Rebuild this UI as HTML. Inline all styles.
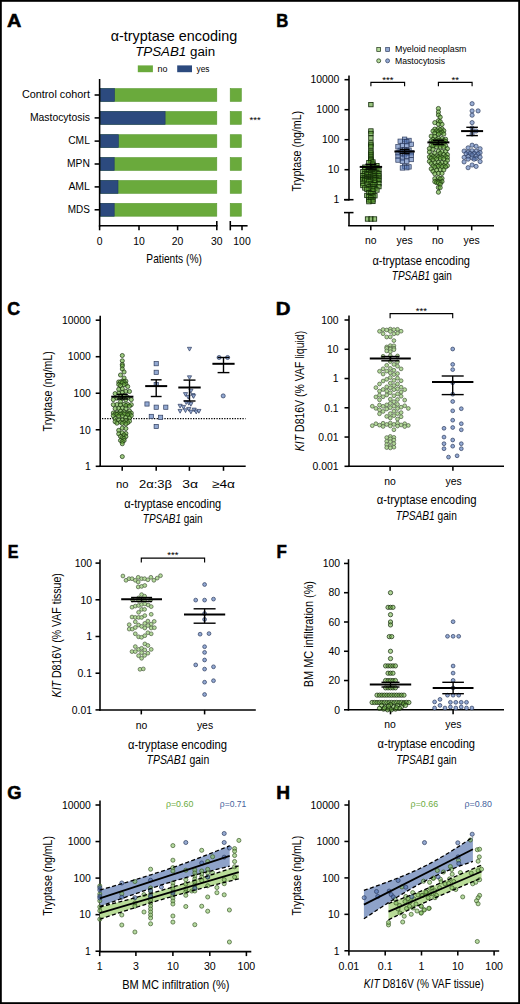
<!DOCTYPE html>
<html><head><meta charset="utf-8"><style>
html,body{margin:0;padding:0;background:#fff;}
body{width:520px;height:1004px;overflow:hidden;}
svg{display:block;font-family:"Liberation Sans", sans-serif;}
</style></head><body>
<svg width="520" height="1004" viewBox="0 0 520 1004">
<rect x="0" y="0" width="520" height="1004" fill="#fff"/>
<text transform="translate(7.03,26.9) scale(1.058,1)" font-size="18.8" font-weight="bold" stroke="#000" stroke-width="0.55">A</text>
<text transform="translate(276.32,27.0) scale(0.887,1)" font-size="18.8" font-weight="bold" stroke="#000" stroke-width="0.55">B</text>
<text transform="translate(7.31,314.9) scale(0.945,1)" font-size="18.8" font-weight="bold" stroke="#000" stroke-width="0.55">C</text>
<text transform="translate(275.87,314.7) scale(1.086,1)" font-size="18.8" font-weight="bold" stroke="#000" stroke-width="0.55">D</text>
<text transform="translate(7.86,557.9) scale(0.857,1)" font-size="18.8" font-weight="bold" stroke="#000" stroke-width="0.55">E</text>
<text transform="translate(276.41,557.9) scale(0.9,1)" font-size="18.8" font-weight="bold" stroke="#000" stroke-width="0.55">F</text>
<text transform="translate(7.29,799.2) scale(0.98,1)" font-size="18.8" font-weight="bold" stroke="#000" stroke-width="0.55">G</text>
<text transform="translate(276.16,798.5) scale(1.018,1)" font-size="18.8" font-weight="bold" stroke="#000" stroke-width="0.55">H</text>
<text x="173.9" y="40.5" font-size="13.9" text-anchor="middle" textLength="126.5" lengthAdjust="spacingAndGlyphs">&#945;-tryptase encoding</text>
<text x="175.2" y="56.2" font-size="13.7" text-anchor="middle" textLength="80" lengthAdjust="spacingAndGlyphs"><tspan font-style="italic">TPSAB1</tspan> gain</text>
<rect x="137.80" y="65.40" width="15.10" height="6.80" fill="#6aaa3c"/>
<text x="157.5" y="71.5" font-size="8.5" textLength="10.0" lengthAdjust="spacingAndGlyphs">no</text>
<rect x="177.20" y="65.40" width="14.80" height="6.80" fill="#2c4a7e"/>
<text x="196.5" y="71.5" font-size="8.5" textLength="13.0" lengthAdjust="spacingAndGlyphs">yes</text>
<text x="89.9" y="98.3" font-size="10" text-anchor="end" textLength="68.0" lengthAdjust="spacingAndGlyphs">Control cohort</text>
<line x1="94.60" y1="95.00" x2="99.50" y2="95.00" stroke="#000" stroke-width="1.55"/>
<rect x="100.30" y="88.60" width="116.50" height="12.80" fill="#6aaa3c" stroke="#58982f" stroke-width="0.6"/>
<rect x="100.30" y="88.60" width="14.20" height="12.80" fill="#2c4a7e" stroke="#203a6a" stroke-width="0.6"/>
<rect x="230.20" y="88.60" width="11.10" height="12.80" fill="#6aaa3c" stroke="#58982f" stroke-width="0.6"/>
<text x="89.9" y="121.3" font-size="10" text-anchor="end" textLength="60.0" lengthAdjust="spacingAndGlyphs">Mastocytosis</text>
<line x1="94.60" y1="117.90" x2="99.50" y2="117.90" stroke="#000" stroke-width="1.55"/>
<rect x="100.30" y="111.50" width="116.50" height="12.80" fill="#6aaa3c" stroke="#58982f" stroke-width="0.6"/>
<rect x="100.30" y="111.50" width="64.80" height="12.80" fill="#2c4a7e" stroke="#203a6a" stroke-width="0.6"/>
<rect x="230.20" y="111.50" width="11.10" height="12.80" fill="#6aaa3c" stroke="#58982f" stroke-width="0.6"/>
<text x="89.9" y="144.1" font-size="10" text-anchor="end" textLength="21.7" lengthAdjust="spacingAndGlyphs">CML</text>
<line x1="94.60" y1="141.10" x2="99.50" y2="141.10" stroke="#000" stroke-width="1.55"/>
<rect x="100.30" y="134.70" width="116.50" height="12.80" fill="#6aaa3c" stroke="#58982f" stroke-width="0.6"/>
<rect x="100.30" y="134.70" width="18.10" height="12.80" fill="#2c4a7e" stroke="#203a6a" stroke-width="0.6"/>
<rect x="230.20" y="134.70" width="11.10" height="12.80" fill="#6aaa3c" stroke="#58982f" stroke-width="0.6"/>
<text x="89.9" y="167.0" font-size="10" text-anchor="end" textLength="22.9" lengthAdjust="spacingAndGlyphs">MPN</text>
<line x1="94.60" y1="164.00" x2="99.50" y2="164.00" stroke="#000" stroke-width="1.55"/>
<rect x="100.30" y="157.60" width="116.50" height="12.80" fill="#6aaa3c" stroke="#58982f" stroke-width="0.6"/>
<rect x="100.30" y="157.60" width="13.90" height="12.80" fill="#2c4a7e" stroke="#203a6a" stroke-width="0.6"/>
<rect x="230.20" y="157.60" width="11.10" height="12.80" fill="#6aaa3c" stroke="#58982f" stroke-width="0.6"/>
<text x="89.9" y="190.0" font-size="10" text-anchor="end" textLength="21.5" lengthAdjust="spacingAndGlyphs">AML</text>
<line x1="94.60" y1="186.90" x2="99.50" y2="186.90" stroke="#000" stroke-width="1.55"/>
<rect x="100.30" y="180.50" width="116.50" height="12.80" fill="#6aaa3c" stroke="#58982f" stroke-width="0.6"/>
<rect x="100.30" y="180.50" width="17.70" height="12.80" fill="#2c4a7e" stroke="#203a6a" stroke-width="0.6"/>
<rect x="230.20" y="180.50" width="11.10" height="12.80" fill="#6aaa3c" stroke="#58982f" stroke-width="0.6"/>
<text x="89.9" y="213.0" font-size="10" text-anchor="end" textLength="22.1" lengthAdjust="spacingAndGlyphs">MDS</text>
<line x1="94.60" y1="209.80" x2="99.50" y2="209.80" stroke="#000" stroke-width="1.55"/>
<rect x="100.30" y="203.40" width="116.50" height="12.80" fill="#6aaa3c" stroke="#58982f" stroke-width="0.6"/>
<rect x="100.30" y="203.40" width="13.90" height="12.80" fill="#2c4a7e" stroke="#203a6a" stroke-width="0.6"/>
<rect x="230.20" y="203.40" width="11.10" height="12.80" fill="#6aaa3c" stroke="#58982f" stroke-width="0.6"/>
<text x="249.6" y="122.6" font-size="9.5">***</text>
<line x1="99.60" y1="79.00" x2="99.60" y2="226.50" stroke="#000" stroke-width="1.55"/>
<line x1="98.90" y1="225.80" x2="217.50" y2="225.80" stroke="#000" stroke-width="1.55"/>
<line x1="230.00" y1="225.80" x2="247.60" y2="225.80" stroke="#000" stroke-width="1.55"/>
<line x1="99.60" y1="225.80" x2="99.60" y2="230.30" stroke="#000" stroke-width="1.55"/>
<line x1="139.00" y1="225.80" x2="139.00" y2="230.30" stroke="#000" stroke-width="1.55"/>
<line x1="177.60" y1="225.80" x2="177.60" y2="230.30" stroke="#000" stroke-width="1.55"/>
<line x1="216.80" y1="221.00" x2="216.80" y2="230.30" stroke="#000" stroke-width="1.55"/>
<line x1="230.30" y1="221.00" x2="230.30" y2="230.30" stroke="#000" stroke-width="1.55"/>
<line x1="242.00" y1="225.80" x2="242.00" y2="230.30" stroke="#000" stroke-width="1.55"/>
<text x="99.6" y="244.8" font-size="10.4" text-anchor="middle">0</text>
<text x="139.0" y="244.8" font-size="10.4" text-anchor="middle">10</text>
<text x="177.6" y="244.8" font-size="10.4" text-anchor="middle">20</text>
<text x="216.8" y="244.8" font-size="10.4" text-anchor="middle">30</text>
<text x="242.0" y="244.8" font-size="10.4" text-anchor="middle">100</text>
<text x="174.1" y="262.8" font-size="12.2" text-anchor="middle" textLength="55.5" lengthAdjust="spacingAndGlyphs">Patients (%)</text>
<g fill="#b3d99a" stroke="#1a3010" stroke-width="0.7"><rect x="376.80" y="47.60" width="3.8" height="3.8"/></g>
<g fill="#93a9d2" stroke="#2e3c5e" stroke-width="0.7"><rect x="385.70" y="47.60" width="3.8" height="3.8"/></g>
<g fill="#b3d99a" stroke="#1a3010" stroke-width="0.7"><circle cx="378.70" cy="60.80" r="2.0"/></g>
<g fill="#93a9d2" stroke="#2e3c5e" stroke-width="0.7"><circle cx="387.60" cy="60.80" r="2.0"/></g>
<text x="395.0" y="52.3" font-size="8.6" textLength="71.5" lengthAdjust="spacingAndGlyphs">Myeloid neoplasm</text>
<text x="395.0" y="63.5" font-size="8.6" textLength="50.0" lengthAdjust="spacingAndGlyphs">Mastocytosis</text>
<line x1="349.00" y1="75.50" x2="349.00" y2="200.50" stroke="#000" stroke-width="1.55"/>
<line x1="344.50" y1="79.70" x2="349.00" y2="79.70" stroke="#000" stroke-width="1.55"/>
<text x="339.4" y="83.4" font-size="10.4" text-anchor="end">10000</text>
<line x1="344.50" y1="109.70" x2="349.00" y2="109.70" stroke="#000" stroke-width="1.55"/>
<text x="339.4" y="113.4" font-size="10.4" text-anchor="end">1000</text>
<line x1="344.50" y1="139.70" x2="349.00" y2="139.70" stroke="#000" stroke-width="1.55"/>
<text x="339.4" y="143.4" font-size="10.4" text-anchor="end">100</text>
<line x1="344.50" y1="169.70" x2="349.00" y2="169.70" stroke="#000" stroke-width="1.55"/>
<text x="339.4" y="173.4" font-size="10.4" text-anchor="end">10</text>
<line x1="344.50" y1="199.70" x2="349.00" y2="199.70" stroke="#000" stroke-width="1.55"/>
<text x="339.4" y="203.4" font-size="10.4" text-anchor="end">1</text>
<line x1="344.00" y1="199.70" x2="353.50" y2="199.70" stroke="#000" stroke-width="1.55"/>
<line x1="349.00" y1="212.60" x2="349.00" y2="226.00" stroke="#000" stroke-width="1.55"/>
<line x1="344.00" y1="212.60" x2="353.50" y2="212.60" stroke="#000" stroke-width="1.55"/>
<line x1="348.20" y1="225.80" x2="494.00" y2="225.80" stroke="#000" stroke-width="1.55"/>
<line x1="370.80" y1="225.80" x2="370.80" y2="230.30" stroke="#000" stroke-width="1.55"/>
<line x1="404.60" y1="225.80" x2="404.60" y2="230.30" stroke="#000" stroke-width="1.55"/>
<line x1="437.80" y1="225.80" x2="437.80" y2="230.30" stroke="#000" stroke-width="1.55"/>
<line x1="471.70" y1="225.80" x2="471.70" y2="230.30" stroke="#000" stroke-width="1.55"/>
<text x="370.8" y="244.2" font-size="10.4" text-anchor="middle">no</text>
<text x="404.6" y="244.2" font-size="10.4" text-anchor="middle">yes</text>
<text x="437.8" y="244.2" font-size="10.4" text-anchor="middle">no</text>
<text x="471.7" y="244.2" font-size="10.4" text-anchor="middle">yes</text>
<text x="421.2" y="265.1" font-size="13.2" text-anchor="middle" textLength="97.6" lengthAdjust="spacingAndGlyphs">&#945;-tryptase encoding</text>
<text x="421.8" y="279.9" font-size="13.2" text-anchor="middle" textLength="60.0" lengthAdjust="spacingAndGlyphs"><tspan font-style="italic">TPSAB1</tspan> gain</text>
<text transform="translate(301.2,151.2) rotate(-90)" font-size="13.5" text-anchor="middle" textLength="80.7" lengthAdjust="spacingAndGlyphs">Tryptase (ng/mL)</text>
<path d="M370.90,86.30V82.40H404.60V86.30" fill="none" stroke="#000" stroke-width="1.15"/>
<text x="387.8" y="83.0" font-size="9.5" text-anchor="middle">***</text>
<path d="M438.40,86.30V82.40H472.10V86.30" fill="none" stroke="#000" stroke-width="1.15"/>
<text x="455.2" y="83.0" font-size="9.5" text-anchor="middle">**</text>
<g fill="#5aa030" fill-opacity="0.62" stroke="#0f2606" stroke-width="0.8"><rect x="368.70" y="102.40" width="4.4" height="4.4"/><rect x="368.70" y="128.80" width="4.4" height="4.4"/><rect x="368.70" y="131.30" width="4.4" height="4.4"/><rect x="368.70" y="135.80" width="4.4" height="4.4"/><rect x="368.70" y="140.80" width="4.4" height="4.4"/><rect x="368.70" y="142.80" width="4.4" height="4.4"/><rect x="368.70" y="144.80" width="4.4" height="4.4"/><rect x="368.70" y="148.80" width="4.4" height="4.4"/><rect x="368.70" y="150.80" width="4.4" height="4.4"/><rect x="368.70" y="152.80" width="4.4" height="4.4"/><rect x="368.70" y="154.80" width="4.4" height="4.4"/><rect x="368.70" y="156.80" width="4.4" height="4.4"/><rect x="368.70" y="158.80" width="4.4" height="4.4"/><rect x="368.70" y="157.85" width="4.4" height="4.4"/><rect x="370.70" y="159.83" width="4.4" height="4.4"/><rect x="366.70" y="160.50" width="4.4" height="4.4"/><rect x="370.70" y="162.01" width="4.4" height="4.4"/><rect x="374.70" y="163.43" width="4.4" height="4.4"/><rect x="366.70" y="164.78" width="4.4" height="4.4"/><rect x="362.70" y="164.97" width="4.4" height="4.4"/><rect x="370.70" y="165.19" width="4.4" height="4.4"/><rect x="374.70" y="165.66" width="4.4" height="4.4"/><rect x="368.70" y="165.87" width="4.4" height="4.4"/><rect x="366.70" y="166.87" width="4.4" height="4.4"/><rect x="372.70" y="167.01" width="4.4" height="4.4"/><rect x="362.70" y="167.44" width="4.4" height="4.4"/><rect x="370.70" y="167.59" width="4.4" height="4.4"/><rect x="376.70" y="167.87" width="4.4" height="4.4"/><rect x="368.70" y="168.45" width="4.4" height="4.4"/><rect x="364.70" y="169.50" width="4.4" height="4.4"/><rect x="360.70" y="169.51" width="4.4" height="4.4"/><rect x="370.70" y="169.58" width="4.4" height="4.4"/><rect x="366.70" y="169.68" width="4.4" height="4.4"/><rect x="374.70" y="170.26" width="4.4" height="4.4"/><rect x="368.70" y="170.41" width="4.4" height="4.4"/><rect x="372.70" y="170.68" width="4.4" height="4.4"/><rect x="362.70" y="171.26" width="4.4" height="4.4"/><rect x="376.70" y="171.39" width="4.4" height="4.4"/><rect x="370.70" y="171.62" width="4.4" height="4.4"/><rect x="366.70" y="171.81" width="4.4" height="4.4"/><rect x="364.70" y="172.25" width="4.4" height="4.4"/><rect x="368.70" y="172.61" width="4.4" height="4.4"/><rect x="372.70" y="173.30" width="4.4" height="4.4"/><rect x="360.70" y="173.45" width="4.4" height="4.4"/><rect x="376.70" y="173.63" width="4.4" height="4.4"/><rect x="370.70" y="173.78" width="4.4" height="4.4"/><rect x="364.70" y="174.73" width="4.4" height="4.4"/><rect x="368.70" y="174.81" width="4.4" height="4.4"/><rect x="366.70" y="175.19" width="4.4" height="4.4"/><rect x="360.70" y="175.74" width="4.4" height="4.4"/><rect x="374.70" y="175.88" width="4.4" height="4.4"/><rect x="370.70" y="175.94" width="4.4" height="4.4"/><rect x="372.70" y="175.98" width="4.4" height="4.4"/><rect x="362.70" y="176.05" width="4.4" height="4.4"/><rect x="376.70" y="176.07" width="4.4" height="4.4"/><rect x="364.70" y="176.54" width="4.4" height="4.4"/><rect x="368.70" y="176.76" width="4.4" height="4.4"/><rect x="366.70" y="177.42" width="4.4" height="4.4"/><rect x="360.70" y="177.57" width="4.4" height="4.4"/><rect x="374.70" y="177.69" width="4.4" height="4.4"/><rect x="370.70" y="177.83" width="4.4" height="4.4"/><rect x="372.70" y="178.00" width="4.4" height="4.4"/><rect x="362.70" y="178.13" width="4.4" height="4.4"/><rect x="376.70" y="178.28" width="4.4" height="4.4"/><rect x="364.70" y="178.31" width="4.4" height="4.4"/><rect x="368.70" y="178.98" width="4.4" height="4.4"/><rect x="366.70" y="179.26" width="4.4" height="4.4"/><rect x="372.70" y="180.15" width="4.4" height="4.4"/><rect x="360.70" y="181.07" width="4.4" height="4.4"/><rect x="376.70" y="181.49" width="4.4" height="4.4"/><rect x="368.70" y="181.74" width="4.4" height="4.4"/><rect x="364.70" y="182.05" width="4.4" height="4.4"/><rect x="372.70" y="182.48" width="4.4" height="4.4"/><rect x="370.70" y="182.65" width="4.4" height="4.4"/><rect x="360.70" y="183.31" width="4.4" height="4.4"/><rect x="376.70" y="184.42" width="4.4" height="4.4"/><rect x="366.70" y="184.60" width="4.4" height="4.4"/><rect x="370.70" y="184.72" width="4.4" height="4.4"/><rect x="362.70" y="185.77" width="4.4" height="4.4"/><rect x="368.70" y="186.12" width="4.4" height="4.4"/><rect x="372.70" y="186.25" width="4.4" height="4.4"/><rect x="370.70" y="186.72" width="4.4" height="4.4"/><rect x="366.70" y="186.95" width="4.4" height="4.4"/><rect x="364.70" y="187.20" width="4.4" height="4.4"/><rect x="374.70" y="187.80" width="4.4" height="4.4"/><rect x="370.70" y="188.82" width="4.4" height="4.4"/><rect x="366.70" y="190.50" width="4.4" height="4.4"/><rect x="370.70" y="191.42" width="4.4" height="4.4"/><rect x="368.70" y="191.52" width="4.4" height="4.4"/><rect x="364.70" y="193.25" width="4.4" height="4.4"/><rect x="372.70" y="193.54" width="4.4" height="4.4"/><rect x="368.70" y="193.84" width="4.4" height="4.4"/><rect x="370.70" y="194.25" width="4.4" height="4.4"/><rect x="366.70" y="194.48" width="4.4" height="4.4"/><rect x="368.70" y="195.70" width="4.4" height="4.4"/><rect x="370.70" y="197.56" width="4.4" height="4.4"/><rect x="366.70" y="197.65" width="4.4" height="4.4"/><rect x="368.70" y="198.01" width="4.4" height="4.4"/><rect x="370.70" y="199.22" width="4.4" height="4.4"/><rect x="366.70" y="199.44" width="4.4" height="4.4"/><rect x="365.30" y="216.80" width="4.4" height="4.4"/><rect x="368.80" y="216.80" width="4.4" height="4.4"/><rect x="372.30" y="216.80" width="4.4" height="4.4"/></g>
<line x1="359.70" y1="166.90" x2="382.10" y2="166.90" stroke="#000" stroke-width="2.0"/>
<line x1="370.90" y1="164.30" x2="370.90" y2="169.00" stroke="#000" stroke-width="1.4"/>
<line x1="365.40" y1="164.30" x2="376.40" y2="164.30" stroke="#000" stroke-width="1.4"/>
<line x1="365.40" y1="169.00" x2="376.40" y2="169.00" stroke="#000" stroke-width="1.4"/>
<g fill="#5577b5" fill-opacity="0.6" stroke="#2e3c5e" stroke-width="0.7"><rect x="402.40" y="137.03" width="4.4" height="4.4"/><rect x="406.80" y="138.24" width="4.4" height="4.4"/><rect x="398.00" y="139.06" width="4.4" height="4.4"/><rect x="402.40" y="139.27" width="4.4" height="4.4"/><rect x="404.60" y="139.61" width="4.4" height="4.4"/><rect x="409.00" y="142.06" width="4.4" height="4.4"/><rect x="400.20" y="143.18" width="4.4" height="4.4"/><rect x="404.60" y="143.26" width="4.4" height="4.4"/><rect x="395.80" y="144.64" width="4.4" height="4.4"/><rect x="402.40" y="147.63" width="4.4" height="4.4"/><rect x="406.80" y="147.96" width="4.4" height="4.4"/><rect x="398.00" y="148.13" width="4.4" height="4.4"/><rect x="404.60" y="148.38" width="4.4" height="4.4"/><rect x="400.20" y="149.22" width="4.4" height="4.4"/><rect x="409.00" y="150.59" width="4.4" height="4.4"/><rect x="395.80" y="150.66" width="4.4" height="4.4"/><rect x="404.60" y="151.01" width="4.4" height="4.4"/><rect x="400.20" y="151.65" width="4.4" height="4.4"/><rect x="402.40" y="152.67" width="4.4" height="4.4"/><rect x="409.00" y="153.06" width="4.4" height="4.4"/><rect x="395.80" y="154.07" width="4.4" height="4.4"/><rect x="404.60" y="154.28" width="4.4" height="4.4"/><rect x="400.20" y="155.89" width="4.4" height="4.4"/><rect x="409.00" y="157.31" width="4.4" height="4.4"/><rect x="395.80" y="157.84" width="4.4" height="4.4"/><rect x="404.60" y="158.96" width="4.4" height="4.4"/><rect x="400.20" y="159.08" width="4.4" height="4.4"/><rect x="402.40" y="164.20" width="4.4" height="4.4"/><rect x="406.80" y="164.69" width="4.4" height="4.4"/><rect x="404.60" y="165.53" width="4.4" height="4.4"/><rect x="400.20" y="165.73" width="4.4" height="4.4"/></g>
<line x1="394.40" y1="151.50" x2="414.80" y2="151.50" stroke="#000" stroke-width="2.0"/>
<line x1="404.60" y1="149.50" x2="404.60" y2="153.50" stroke="#000" stroke-width="1.4"/>
<line x1="399.60" y1="149.50" x2="409.60" y2="149.50" stroke="#000" stroke-width="1.4"/>
<line x1="399.60" y1="153.50" x2="409.60" y2="153.50" stroke="#000" stroke-width="1.4"/>
<g fill="#6cb040" fill-opacity="0.66" stroke="#1a3010" stroke-width="0.7"><circle cx="438.40" cy="108.50" r="2.1"/><circle cx="438.40" cy="112.00" r="2.1"/><circle cx="438.40" cy="115.00" r="2.1"/><circle cx="440.20" cy="117.13" r="2.1"/><circle cx="438.40" cy="120.77" r="2.1"/><circle cx="440.20" cy="121.62" r="2.1"/><circle cx="434.80" cy="122.66" r="2.1"/><circle cx="438.40" cy="124.14" r="2.1"/><circle cx="442.00" cy="124.34" r="2.1"/><circle cx="438.40" cy="128.51" r="2.1"/><circle cx="442.00" cy="128.78" r="2.1"/><circle cx="434.80" cy="129.17" r="2.1"/><circle cx="440.20" cy="129.80" r="2.1"/><circle cx="443.80" cy="130.76" r="2.1"/><circle cx="436.60" cy="130.84" r="2.1"/><circle cx="433.00" cy="131.08" r="2.1"/><circle cx="438.40" cy="131.97" r="2.1"/><circle cx="442.00" cy="132.22" r="2.1"/><circle cx="434.80" cy="133.22" r="2.1"/><circle cx="440.20" cy="133.30" r="2.1"/><circle cx="443.80" cy="134.03" r="2.1"/><circle cx="438.40" cy="134.13" r="2.1"/><circle cx="431.20" cy="136.16" r="2.1"/><circle cx="434.80" cy="136.40" r="2.1"/><circle cx="438.40" cy="138.29" r="2.1"/><circle cx="442.00" cy="138.55" r="2.1"/><circle cx="445.60" cy="139.27" r="2.1"/><circle cx="433.00" cy="139.33" r="2.1"/><circle cx="436.60" cy="139.73" r="2.1"/><circle cx="440.20" cy="140.57" r="2.1"/><circle cx="443.80" cy="140.59" r="2.1"/><circle cx="431.20" cy="140.85" r="2.1"/><circle cx="434.80" cy="141.09" r="2.1"/><circle cx="438.40" cy="141.11" r="2.1"/><circle cx="442.00" cy="141.31" r="2.1"/><circle cx="445.60" cy="141.42" r="2.1"/><circle cx="436.60" cy="141.73" r="2.1"/><circle cx="433.00" cy="141.92" r="2.1"/><circle cx="440.20" cy="143.15" r="2.1"/><circle cx="443.80" cy="143.17" r="2.1"/><circle cx="434.80" cy="144.65" r="2.1"/><circle cx="431.20" cy="145.15" r="2.1"/><circle cx="438.40" cy="145.25" r="2.1"/><circle cx="442.00" cy="145.36" r="2.1"/><circle cx="445.60" cy="145.68" r="2.1"/><circle cx="433.00" cy="145.96" r="2.1"/><circle cx="436.60" cy="146.96" r="2.1"/><circle cx="440.20" cy="147.03" r="2.1"/><circle cx="443.80" cy="147.08" r="2.1"/><circle cx="429.40" cy="148.59" r="2.1"/><circle cx="447.40" cy="148.70" r="2.1"/><circle cx="433.00" cy="149.32" r="2.1"/><circle cx="438.40" cy="151.15" r="2.1"/><circle cx="442.00" cy="151.52" r="2.1"/><circle cx="445.60" cy="151.53" r="2.1"/><circle cx="429.40" cy="152.04" r="2.1"/><circle cx="434.80" cy="153.04" r="2.1"/><circle cx="440.20" cy="153.42" r="2.1"/><circle cx="443.80" cy="154.55" r="2.1"/><circle cx="447.40" cy="154.65" r="2.1"/><circle cx="431.20" cy="155.08" r="2.1"/><circle cx="436.60" cy="155.88" r="2.1"/><circle cx="440.20" cy="156.08" r="2.1"/><circle cx="445.60" cy="156.53" r="2.1"/><circle cx="433.00" cy="156.65" r="2.1"/><circle cx="429.40" cy="156.91" r="2.1"/><circle cx="438.40" cy="157.10" r="2.1"/><circle cx="442.00" cy="157.59" r="2.1"/><circle cx="447.40" cy="157.63" r="2.1"/><circle cx="434.80" cy="157.79" r="2.1"/><circle cx="431.20" cy="158.42" r="2.1"/><circle cx="440.20" cy="158.46" r="2.1"/><circle cx="443.80" cy="158.94" r="2.1"/><circle cx="436.60" cy="158.98" r="2.1"/><circle cx="433.00" cy="160.08" r="2.1"/><circle cx="447.40" cy="160.44" r="2.1"/><circle cx="429.40" cy="161.39" r="2.1"/><circle cx="438.40" cy="162.46" r="2.1"/><circle cx="442.00" cy="162.57" r="2.1"/><circle cx="434.80" cy="162.72" r="2.1"/><circle cx="445.60" cy="162.83" r="2.1"/><circle cx="431.20" cy="163.52" r="2.1"/><circle cx="440.20" cy="164.58" r="2.1"/><circle cx="436.60" cy="165.57" r="2.1"/><circle cx="443.80" cy="165.63" r="2.1"/><circle cx="447.40" cy="165.64" r="2.1"/><circle cx="433.00" cy="165.84" r="2.1"/><circle cx="438.40" cy="166.27" r="2.1"/><circle cx="442.00" cy="166.63" r="2.1"/><circle cx="445.60" cy="166.92" r="2.1"/><circle cx="434.80" cy="167.20" r="2.1"/><circle cx="431.20" cy="168.86" r="2.1"/><circle cx="440.20" cy="169.64" r="2.1"/><circle cx="443.80" cy="169.92" r="2.1"/><circle cx="436.60" cy="170.20" r="2.1"/><circle cx="433.00" cy="171.35" r="2.1"/><circle cx="438.40" cy="173.33" r="2.1"/><circle cx="442.00" cy="173.41" r="2.1"/><circle cx="434.80" cy="173.76" r="2.1"/><circle cx="438.40" cy="177.75" r="2.1"/><circle cx="442.00" cy="178.36" r="2.1"/><circle cx="434.80" cy="178.65" r="2.1"/><circle cx="440.20" cy="178.86" r="2.1"/><circle cx="436.60" cy="181.04" r="2.1"/><circle cx="442.00" cy="181.55" r="2.1"/><circle cx="438.40" cy="181.56" r="2.1"/><circle cx="434.80" cy="181.63" r="2.1"/><circle cx="440.20" cy="182.52" r="2.1"/><circle cx="436.60" cy="182.67" r="2.1"/><circle cx="438.40" cy="183.00" r="2.1"/><circle cx="440.20" cy="184.32" r="2.1"/><circle cx="438.40" cy="187.53" r="2.1"/><circle cx="440.20" cy="187.64" r="2.1"/><circle cx="438.40" cy="192.20" r="2.1"/></g>
<line x1="427.40" y1="142.40" x2="449.40" y2="142.40" stroke="#000" stroke-width="2.0"/>
<line x1="438.40" y1="140.30" x2="438.40" y2="144.50" stroke="#000" stroke-width="1.4"/>
<line x1="432.90" y1="140.30" x2="443.90" y2="140.30" stroke="#000" stroke-width="1.4"/>
<line x1="432.90" y1="144.50" x2="443.90" y2="144.50" stroke="#000" stroke-width="1.4"/>
<g fill="#5577b5" fill-opacity="0.6" stroke="#2e3c5e" stroke-width="0.7"><circle cx="472.10" cy="103.70" r="2.1"/><circle cx="472.10" cy="110.90" r="2.1"/><circle cx="478.10" cy="110.90" r="2.1"/><circle cx="472.10" cy="115.20" r="2.1"/><circle cx="472.10" cy="122.60" r="2.1"/><circle cx="472.10" cy="128.00" r="2.1"/><circle cx="476.10" cy="131.00" r="2.1"/><circle cx="472.10" cy="134.00" r="2.1"/><circle cx="472.10" cy="145.20" r="2.1"/><circle cx="476.10" cy="146.27" r="2.1"/><circle cx="468.10" cy="147.87" r="2.1"/><circle cx="480.10" cy="148.74" r="2.1"/><circle cx="472.10" cy="150.76" r="2.1"/><circle cx="464.10" cy="151.06" r="2.1"/><circle cx="476.10" cy="151.16" r="2.1"/><circle cx="468.10" cy="152.03" r="2.1"/><circle cx="480.10" cy="152.71" r="2.1"/><circle cx="474.10" cy="153.28" r="2.1"/><circle cx="470.10" cy="153.33" r="2.1"/><circle cx="466.10" cy="153.69" r="2.1"/><circle cx="478.10" cy="153.74" r="2.1"/><circle cx="472.10" cy="154.94" r="2.1"/><circle cx="476.10" cy="155.96" r="2.1"/><circle cx="468.10" cy="156.38" r="2.1"/><circle cx="480.10" cy="157.15" r="2.1"/><circle cx="464.10" cy="157.35" r="2.1"/><circle cx="472.10" cy="157.90" r="2.1"/><circle cx="476.10" cy="158.52" r="2.1"/><circle cx="468.10" cy="159.14" r="2.1"/><circle cx="474.10" cy="159.19" r="2.1"/><circle cx="480.10" cy="161.56" r="2.1"/><circle cx="464.10" cy="161.90" r="2.1"/><circle cx="472.10" cy="165.01" r="2.1"/><circle cx="476.10" cy="166.40" r="2.1"/><circle cx="468.10" cy="167.70" r="2.1"/></g>
<line x1="461.10" y1="131.10" x2="483.10" y2="131.10" stroke="#000" stroke-width="2.0"/>
<line x1="472.10" y1="127.30" x2="472.10" y2="135.60" stroke="#000" stroke-width="1.4"/>
<line x1="466.30" y1="127.30" x2="477.90" y2="127.30" stroke="#000" stroke-width="1.4"/>
<line x1="466.30" y1="135.60" x2="477.90" y2="135.60" stroke="#000" stroke-width="1.4"/>
<line x1="100.20" y1="315.80" x2="100.20" y2="467.10" stroke="#000" stroke-width="1.55"/>
<line x1="95.70" y1="320.18" x2="100.20" y2="320.18" stroke="#000" stroke-width="1.55"/>
<text x="90.8" y="323.9" font-size="10.4" text-anchor="end">10000</text>
<line x1="95.70" y1="356.71" x2="100.20" y2="356.71" stroke="#000" stroke-width="1.55"/>
<text x="90.8" y="360.4" font-size="10.4" text-anchor="end">1000</text>
<line x1="95.70" y1="393.24" x2="100.20" y2="393.24" stroke="#000" stroke-width="1.55"/>
<text x="90.8" y="396.9" font-size="10.4" text-anchor="end">100</text>
<line x1="95.70" y1="429.77" x2="100.20" y2="429.77" stroke="#000" stroke-width="1.55"/>
<text x="90.8" y="433.5" font-size="10.4" text-anchor="end">10</text>
<line x1="95.70" y1="466.30" x2="100.20" y2="466.30" stroke="#000" stroke-width="1.55"/>
<text x="90.8" y="470.0" font-size="10.4" text-anchor="end">1</text>
<line x1="99.40" y1="466.30" x2="245.70" y2="466.30" stroke="#000" stroke-width="1.55"/>
<line x1="122.20" y1="466.30" x2="122.20" y2="470.80" stroke="#000" stroke-width="1.55"/>
<line x1="156.20" y1="466.30" x2="156.20" y2="470.80" stroke="#000" stroke-width="1.55"/>
<line x1="189.40" y1="466.30" x2="189.40" y2="470.80" stroke="#000" stroke-width="1.55"/>
<line x1="223.50" y1="466.30" x2="223.50" y2="470.80" stroke="#000" stroke-width="1.55"/>
<line x1="102" y1="418.7" x2="245.5" y2="418.7" stroke="#000" stroke-width="1.2" stroke-dasharray="1.3,1.3"/>
<text x="122.2" y="488.4" font-size="11.3" text-anchor="middle" textLength="12.5" lengthAdjust="spacingAndGlyphs">no</text>
<text x="155.5" y="488.4" font-size="11.3" text-anchor="middle" textLength="33.0" lengthAdjust="spacingAndGlyphs">2&#945;:3&#946;</text>
<text x="190.1" y="488.4" font-size="11.3" text-anchor="middle" textLength="15.8" lengthAdjust="spacingAndGlyphs">3&#945;</text>
<text x="223.5" y="488.4" font-size="11.3" text-anchor="middle" textLength="23.0" lengthAdjust="spacingAndGlyphs">&#8805;4&#945;</text>
<text x="172.7" y="508.1" font-size="13.2" text-anchor="middle" textLength="96.9" lengthAdjust="spacingAndGlyphs">&#945;-tryptase encoding</text>
<text x="172.7" y="523.1" font-size="13.2" text-anchor="middle" textLength="59.7" lengthAdjust="spacingAndGlyphs"><tspan font-style="italic">TPSAB1</tspan> gain</text>
<text transform="translate(52.1,391.3) rotate(-90)" font-size="13.5" text-anchor="middle" textLength="80.2" lengthAdjust="spacingAndGlyphs">Tryptase (ng/mL)</text>
<g fill="#6cb040" fill-opacity="0.66" stroke="#1a3010" stroke-width="0.7"><circle cx="122.30" cy="355.50" r="2.05"/><circle cx="122.30" cy="360.80" r="2.05"/><circle cx="122.30" cy="364.50" r="2.05"/><circle cx="122.30" cy="366.00" r="2.05"/><circle cx="122.30" cy="369.00" r="2.05"/><circle cx="124.10" cy="372.00" r="2.05"/><circle cx="120.50" cy="375.00" r="2.05"/><circle cx="124.10" cy="378.00" r="2.05"/><circle cx="122.30" cy="381.16" r="2.05"/><circle cx="125.90" cy="381.22" r="2.05"/><circle cx="118.70" cy="381.96" r="2.05"/><circle cx="124.10" cy="381.97" r="2.05"/><circle cx="120.50" cy="382.00" r="2.05"/><circle cx="122.30" cy="382.81" r="2.05"/><circle cx="125.90" cy="384.04" r="2.05"/><circle cx="118.70" cy="384.50" r="2.05"/><circle cx="124.10" cy="384.60" r="2.05"/><circle cx="120.50" cy="385.63" r="2.05"/><circle cx="127.70" cy="386.52" r="2.05"/><circle cx="122.30" cy="388.69" r="2.05"/><circle cx="118.70" cy="389.30" r="2.05"/><circle cx="125.90" cy="391.29" r="2.05"/><circle cx="129.50" cy="391.45" r="2.05"/><circle cx="122.30" cy="392.49" r="2.05"/><circle cx="118.70" cy="393.26" r="2.05"/><circle cx="115.10" cy="393.60" r="2.05"/><circle cx="124.10" cy="395.83" r="2.05"/><circle cx="120.50" cy="396.61" r="2.05"/><circle cx="127.70" cy="397.42" r="2.05"/><circle cx="116.90" cy="398.14" r="2.05"/><circle cx="122.30" cy="398.45" r="2.05"/><circle cx="131.30" cy="399.61" r="2.05"/><circle cx="113.30" cy="399.61" r="2.05"/><circle cx="125.90" cy="399.77" r="2.05"/><circle cx="120.50" cy="401.66" r="2.05"/><circle cx="124.10" cy="404.27" r="2.05"/><circle cx="127.70" cy="404.45" r="2.05"/><circle cx="116.90" cy="404.54" r="2.05"/><circle cx="131.30" cy="404.69" r="2.05"/><circle cx="113.30" cy="404.69" r="2.05"/><circle cx="120.50" cy="404.88" r="2.05"/><circle cx="125.90" cy="405.49" r="2.05"/><circle cx="129.50" cy="406.12" r="2.05"/><circle cx="122.30" cy="407.97" r="2.05"/><circle cx="118.70" cy="408.40" r="2.05"/><circle cx="115.10" cy="408.56" r="2.05"/><circle cx="125.90" cy="408.70" r="2.05"/><circle cx="129.50" cy="411.03" r="2.05"/><circle cx="120.50" cy="411.11" r="2.05"/><circle cx="124.10" cy="411.86" r="2.05"/><circle cx="116.90" cy="412.77" r="2.05"/><circle cx="113.30" cy="413.02" r="2.05"/><circle cx="127.70" cy="413.03" r="2.05"/><circle cx="131.30" cy="413.04" r="2.05"/><circle cx="122.30" cy="413.18" r="2.05"/><circle cx="118.70" cy="413.71" r="2.05"/><circle cx="125.90" cy="413.94" r="2.05"/><circle cx="129.50" cy="413.94" r="2.05"/><circle cx="115.10" cy="413.99" r="2.05"/><circle cx="124.10" cy="414.01" r="2.05"/><circle cx="120.50" cy="414.41" r="2.05"/><circle cx="116.90" cy="414.43" r="2.05"/><circle cx="127.70" cy="414.99" r="2.05"/><circle cx="131.30" cy="415.64" r="2.05"/><circle cx="113.30" cy="415.77" r="2.05"/><circle cx="122.30" cy="416.08" r="2.05"/><circle cx="118.70" cy="416.11" r="2.05"/><circle cx="125.90" cy="417.41" r="2.05"/><circle cx="129.50" cy="417.99" r="2.05"/><circle cx="115.10" cy="418.48" r="2.05"/><circle cx="122.30" cy="419.82" r="2.05"/><circle cx="118.70" cy="419.92" r="2.05"/><circle cx="125.90" cy="420.59" r="2.05"/><circle cx="129.50" cy="421.22" r="2.05"/><circle cx="115.10" cy="421.65" r="2.05"/><circle cx="120.50" cy="422.10" r="2.05"/><circle cx="124.10" cy="422.22" r="2.05"/><circle cx="127.70" cy="422.66" r="2.05"/><circle cx="116.90" cy="423.18" r="2.05"/><circle cx="122.30" cy="423.43" r="2.05"/><circle cx="125.90" cy="423.91" r="2.05"/><circle cx="122.30" cy="428.03" r="2.05"/><circle cx="125.90" cy="428.52" r="2.05"/><circle cx="118.70" cy="430.35" r="2.05"/><circle cx="122.30" cy="432.83" r="2.05"/><circle cx="125.90" cy="433.51" r="2.05"/><circle cx="118.70" cy="433.84" r="2.05"/><circle cx="124.10" cy="434.86" r="2.05"/><circle cx="120.50" cy="436.46" r="2.05"/><circle cx="125.90" cy="436.57" r="2.05"/><circle cx="122.30" cy="437.78" r="2.05"/><circle cx="124.10" cy="438.45" r="2.05"/><circle cx="120.50" cy="440.50" r="2.05"/><circle cx="124.10" cy="440.51" r="2.05"/><circle cx="122.30" cy="441.64" r="2.05"/><circle cx="122.30" cy="443.76" r="2.05"/><circle cx="122.30" cy="456.60" r="2.05"/></g>
<line x1="111.20" y1="396.70" x2="133.40" y2="396.70" stroke="#000" stroke-width="2.0"/>
<line x1="122.30" y1="394.30" x2="122.30" y2="399.00" stroke="#000" stroke-width="1.4"/>
<line x1="116.80" y1="394.30" x2="127.80" y2="394.30" stroke="#000" stroke-width="1.4"/>
<line x1="116.80" y1="399.00" x2="127.80" y2="399.00" stroke="#000" stroke-width="1.4"/>
<g fill="#93a9d2" stroke="#2e3c5e" stroke-width="0.7"><rect x="154.10" y="361.60" width="4.2" height="4.2"/><rect x="154.10" y="370.20" width="4.2" height="4.2"/><rect x="154.10" y="382.40" width="4.2" height="4.2"/><rect x="144.90" y="401.90" width="4.2" height="4.2"/><rect x="154.10" y="405.10" width="4.2" height="4.2"/><rect x="163.70" y="405.10" width="4.2" height="4.2"/><rect x="149.20" y="414.30" width="4.2" height="4.2"/><rect x="158.50" y="415.20" width="4.2" height="4.2"/><rect x="154.10" y="424.40" width="4.2" height="4.2"/></g>
<line x1="145.20" y1="386.10" x2="167.20" y2="386.10" stroke="#000" stroke-width="2.0"/>
<line x1="156.20" y1="379.80" x2="156.20" y2="396.50" stroke="#000" stroke-width="1.4"/>
<line x1="150.80" y1="379.80" x2="161.60" y2="379.80" stroke="#000" stroke-width="1.4"/>
<line x1="150.80" y1="396.50" x2="161.60" y2="396.50" stroke="#000" stroke-width="1.4"/>
<g fill="#93a9d2" stroke="#2e3c5e" stroke-width="0.7"><path d="M187.40,347.31H191.60L189.50,351.09Z"/><path d="M187.40,375.81H191.60L189.50,379.59Z"/><path d="M188.80,389.21H193.00L190.90,392.99Z"/><path d="M183.40,392.61H187.60L185.50,396.39Z"/><path d="M190.80,393.61H195.00L192.90,397.39Z"/><path d="M186.10,395.31H190.30L188.20,399.09Z"/><path d="M191.50,394.61H195.70L193.60,398.39Z"/><path d="M184.10,400.71H188.30L186.20,404.49Z"/><path d="M186.70,401.41H190.90L188.80,405.19Z"/><path d="M188.80,402.41H193.00L190.90,406.19Z"/><path d="M178.00,404.31H182.20L180.10,408.09Z"/><path d="M181.40,405.41H185.60L183.50,409.19Z"/><path d="M178.00,409.41H182.20L180.10,413.19Z"/><path d="M183.40,408.81H187.60L185.50,412.59Z"/><path d="M186.70,407.41H190.90L188.80,411.19Z"/><path d="M188.80,410.11H193.00L190.90,413.89Z"/><path d="M192.10,408.11H196.30L194.20,411.89Z"/><path d="M194.10,410.11H198.30L196.20,413.89Z"/><path d="M196.80,409.41H201.00L198.90,413.19Z"/></g>
<line x1="178.30" y1="387.50" x2="200.70" y2="387.50" stroke="#000" stroke-width="2.0"/>
<line x1="189.50" y1="380.10" x2="189.50" y2="401.00" stroke="#000" stroke-width="1.4"/>
<line x1="183.50" y1="380.10" x2="195.50" y2="380.10" stroke="#000" stroke-width="1.4"/>
<line x1="183.50" y1="401.00" x2="195.50" y2="401.00" stroke="#000" stroke-width="1.4"/>
<g fill="#93a9d2" stroke="#2e3c5e" stroke-width="0.7"><circle cx="219.10" cy="357.50" r="2.05"/><circle cx="227.60" cy="357.50" r="2.05"/><circle cx="223.20" cy="395.90" r="2.05"/></g>
<line x1="212.40" y1="363.80" x2="234.60" y2="363.80" stroke="#000" stroke-width="2.0"/>
<line x1="223.50" y1="357.50" x2="223.50" y2="372.60" stroke="#000" stroke-width="1.4"/>
<line x1="217.60" y1="357.50" x2="229.40" y2="357.50" stroke="#000" stroke-width="1.4"/>
<line x1="217.60" y1="372.60" x2="229.40" y2="372.60" stroke="#000" stroke-width="1.4"/>
<line x1="349.00" y1="315.50" x2="349.00" y2="467.10" stroke="#000" stroke-width="1.55"/>
<line x1="344.50" y1="320.00" x2="349.00" y2="320.00" stroke="#000" stroke-width="1.55"/>
<text x="338.6" y="323.7" font-size="10.4" text-anchor="end">100</text>
<line x1="344.50" y1="349.26" x2="349.00" y2="349.26" stroke="#000" stroke-width="1.55"/>
<text x="338.6" y="353.0" font-size="10.4" text-anchor="end">10</text>
<line x1="344.50" y1="378.52" x2="349.00" y2="378.52" stroke="#000" stroke-width="1.55"/>
<text x="338.6" y="382.2" font-size="10.4" text-anchor="end">1</text>
<line x1="344.50" y1="407.78" x2="349.00" y2="407.78" stroke="#000" stroke-width="1.55"/>
<text x="338.6" y="411.5" font-size="10.4" text-anchor="end">0.1</text>
<line x1="344.50" y1="437.04" x2="349.00" y2="437.04" stroke="#000" stroke-width="1.55"/>
<text x="338.6" y="440.7" font-size="10.4" text-anchor="end">0.01</text>
<line x1="344.50" y1="466.30" x2="349.00" y2="466.30" stroke="#000" stroke-width="1.55"/>
<text x="338.6" y="470.0" font-size="10.4" text-anchor="end">0.001</text>
<line x1="348.20" y1="466.30" x2="504.00" y2="466.30" stroke="#000" stroke-width="1.55"/>
<line x1="390.10" y1="466.30" x2="390.10" y2="470.80" stroke="#000" stroke-width="1.55"/>
<line x1="452.90" y1="466.30" x2="452.90" y2="470.80" stroke="#000" stroke-width="1.55"/>
<text x="390.1" y="484.8" font-size="10.4" text-anchor="middle">no</text>
<text x="453.6" y="484.8" font-size="10.4" text-anchor="middle">yes</text>
<text x="426.7" y="504.2" font-size="13.2" text-anchor="middle" textLength="99.8" lengthAdjust="spacingAndGlyphs">&#945;-tryptase encoding</text>
<text x="426.3" y="520.4" font-size="13.2" text-anchor="middle" textLength="61.0" lengthAdjust="spacingAndGlyphs"><tspan font-style="italic">TPSAB1</tspan> gain</text>
<text transform="translate(304,391.0) rotate(-90)" font-size="13.5" text-anchor="middle" textLength="120.3" lengthAdjust="spacingAndGlyphs"><tspan font-style="italic">KIT</tspan> D816V (% VAF liquid)</text>
<path d="M390.10,318.20V313.60H452.70V318.20" fill="none" stroke="#000" stroke-width="1.15"/>
<text x="421.4" y="314.1" font-size="9.5" text-anchor="middle">***</text>
<g fill="#b3d99a" stroke="#4a5a40" stroke-width="0.7"><circle cx="390.30" cy="329.08" r="1.9"/><circle cx="397.50" cy="329.31" r="1.9"/><circle cx="383.10" cy="329.57" r="1.9"/><circle cx="393.90" cy="329.62" r="1.9"/><circle cx="386.70" cy="329.99" r="1.9"/><circle cx="401.10" cy="331.22" r="1.9"/><circle cx="379.50" cy="331.29" r="1.9"/><circle cx="390.30" cy="331.49" r="1.9"/><circle cx="397.50" cy="333.23" r="1.9"/><circle cx="383.10" cy="333.76" r="1.9"/><circle cx="393.90" cy="333.84" r="1.9"/><circle cx="390.30" cy="336.84" r="1.9"/><circle cx="386.70" cy="337.03" r="1.9"/><circle cx="393.90" cy="340.60" r="1.9"/><circle cx="390.30" cy="345.66" r="1.9"/><circle cx="393.90" cy="345.83" r="1.9"/><circle cx="386.70" cy="346.96" r="1.9"/><circle cx="390.30" cy="348.16" r="1.9"/><circle cx="393.90" cy="348.27" r="1.9"/><circle cx="386.70" cy="348.36" r="1.9"/><circle cx="390.30" cy="349.29" r="1.9"/><circle cx="393.90" cy="349.70" r="1.9"/><circle cx="386.70" cy="350.91" r="1.9"/><circle cx="390.30" cy="351.73" r="1.9"/><circle cx="390.30" cy="355.79" r="1.9"/><circle cx="397.50" cy="355.95" r="1.9"/><circle cx="383.10" cy="356.26" r="1.9"/><circle cx="390.30" cy="361.59" r="1.9"/><circle cx="397.50" cy="361.86" r="1.9"/><circle cx="393.90" cy="364.42" r="1.9"/><circle cx="386.70" cy="365.32" r="1.9"/><circle cx="397.50" cy="366.20" r="1.9"/><circle cx="390.30" cy="368.43" r="1.9"/><circle cx="383.10" cy="368.80" r="1.9"/><circle cx="401.10" cy="368.87" r="1.9"/><circle cx="393.90" cy="370.27" r="1.9"/><circle cx="386.70" cy="371.07" r="1.9"/><circle cx="379.50" cy="371.28" r="1.9"/><circle cx="390.30" cy="372.87" r="1.9"/><circle cx="397.50" cy="373.56" r="1.9"/><circle cx="383.10" cy="374.04" r="1.9"/><circle cx="393.90" cy="374.53" r="1.9"/><circle cx="390.30" cy="377.53" r="1.9"/><circle cx="397.50" cy="378.17" r="1.9"/><circle cx="386.70" cy="379.28" r="1.9"/><circle cx="393.90" cy="380.41" r="1.9"/><circle cx="401.10" cy="380.73" r="1.9"/><circle cx="383.10" cy="381.01" r="1.9"/><circle cx="390.30" cy="383.14" r="1.9"/><circle cx="397.50" cy="383.88" r="1.9"/><circle cx="379.50" cy="384.00" r="1.9"/><circle cx="393.90" cy="385.53" r="1.9"/><circle cx="386.70" cy="386.85" r="1.9"/><circle cx="401.10" cy="387.22" r="1.9"/><circle cx="375.90" cy="387.60" r="1.9"/><circle cx="390.30" cy="387.77" r="1.9"/><circle cx="397.50" cy="388.75" r="1.9"/><circle cx="383.10" cy="389.48" r="1.9"/><circle cx="404.70" cy="389.63" r="1.9"/><circle cx="393.90" cy="389.64" r="1.9"/><circle cx="386.70" cy="391.06" r="1.9"/><circle cx="379.50" cy="391.13" r="1.9"/><circle cx="401.10" cy="392.01" r="1.9"/><circle cx="390.30" cy="392.74" r="1.9"/><circle cx="397.50" cy="393.83" r="1.9"/><circle cx="386.70" cy="395.02" r="1.9"/><circle cx="379.50" cy="395.18" r="1.9"/><circle cx="393.90" cy="395.78" r="1.9"/><circle cx="401.10" cy="396.27" r="1.9"/><circle cx="383.10" cy="396.79" r="1.9"/><circle cx="375.90" cy="396.95" r="1.9"/><circle cx="390.30" cy="399.20" r="1.9"/><circle cx="397.50" cy="399.51" r="1.9"/><circle cx="379.50" cy="399.85" r="1.9"/><circle cx="404.70" cy="400.10" r="1.9"/><circle cx="393.90" cy="401.72" r="1.9"/><circle cx="390.30" cy="403.36" r="1.9"/><circle cx="397.50" cy="404.32" r="1.9"/><circle cx="386.70" cy="404.89" r="1.9"/><circle cx="379.50" cy="405.09" r="1.9"/><circle cx="404.70" cy="405.80" r="1.9"/><circle cx="393.90" cy="406.17" r="1.9"/><circle cx="372.30" cy="406.26" r="1.9"/><circle cx="383.10" cy="406.32" r="1.9"/><circle cx="401.10" cy="407.20" r="1.9"/><circle cx="390.30" cy="407.71" r="1.9"/><circle cx="375.90" cy="408.37" r="1.9"/><circle cx="408.30" cy="408.46" r="1.9"/><circle cx="397.50" cy="408.50" r="1.9"/><circle cx="386.70" cy="409.00" r="1.9"/><circle cx="379.50" cy="409.86" r="1.9"/><circle cx="393.90" cy="411.12" r="1.9"/><circle cx="383.10" cy="411.46" r="1.9"/><circle cx="401.10" cy="412.59" r="1.9"/><circle cx="390.30" cy="413.56" r="1.9"/><circle cx="397.50" cy="413.58" r="1.9"/><circle cx="379.50" cy="413.78" r="1.9"/><circle cx="393.90" cy="415.63" r="1.9"/><circle cx="386.70" cy="416.41" r="1.9"/><circle cx="401.10" cy="416.75" r="1.9"/><circle cx="390.30" cy="418.00" r="1.9"/><circle cx="397.50" cy="419.03" r="1.9"/><circle cx="390.30" cy="423.04" r="1.9"/><circle cx="397.50" cy="423.17" r="1.9"/><circle cx="383.10" cy="423.25" r="1.9"/><circle cx="404.70" cy="423.73" r="1.9"/><circle cx="375.90" cy="423.73" r="1.9"/><circle cx="393.90" cy="424.43" r="1.9"/><circle cx="386.70" cy="424.47" r="1.9"/><circle cx="401.10" cy="424.96" r="1.9"/><circle cx="379.50" cy="425.13" r="1.9"/><circle cx="408.30" cy="425.42" r="1.9"/><circle cx="372.30" cy="425.66" r="1.9"/><circle cx="390.30" cy="425.95" r="1.9"/><circle cx="397.50" cy="426.04" r="1.9"/><circle cx="383.10" cy="426.46" r="1.9"/><circle cx="404.70" cy="426.55" r="1.9"/><circle cx="393.90" cy="429.76" r="1.9"/><circle cx="390.30" cy="436.44" r="1.9"/><circle cx="393.90" cy="437.38" r="1.9"/><circle cx="386.70" cy="437.58" r="1.9"/><circle cx="390.30" cy="438.84" r="1.9"/><circle cx="393.90" cy="440.08" r="1.9"/><circle cx="386.70" cy="441.27" r="1.9"/><circle cx="390.30" cy="441.75" r="1.9"/><circle cx="393.90" cy="443.62" r="1.9"/><circle cx="386.70" cy="444.68" r="1.9"/><circle cx="390.30" cy="446.28" r="1.9"/><circle cx="393.90" cy="447.19" r="1.9"/><circle cx="386.70" cy="447.58" r="1.9"/><circle cx="390.30" cy="447.93" r="1.9"/></g>
<line x1="369.80" y1="358.60" x2="410.80" y2="358.60" stroke="#000" stroke-width="2.0"/>
<line x1="390.30" y1="356.50" x2="390.30" y2="360.80" stroke="#000" stroke-width="1.4"/>
<line x1="381.30" y1="356.50" x2="399.30" y2="356.50" stroke="#000" stroke-width="1.4"/>
<line x1="381.30" y1="360.80" x2="399.30" y2="360.80" stroke="#000" stroke-width="1.4"/>
<g fill="#93a9d2" stroke="#2e3c5e" stroke-width="0.7"><circle cx="452.70" cy="349.00" r="1.9"/><circle cx="452.70" cy="364.40" r="1.9"/><circle cx="452.70" cy="369.60" r="1.9"/><circle cx="452.70" cy="382.70" r="1.9"/><circle cx="452.70" cy="394.20" r="1.9"/><circle cx="452.70" cy="401.50" r="1.9"/><circle cx="461.30" cy="408.70" r="1.9"/><circle cx="452.70" cy="410.80" r="1.9"/><circle cx="452.70" cy="420.20" r="1.9"/><circle cx="461.30" cy="423.70" r="1.9"/><circle cx="444.00" cy="428.30" r="1.9"/><circle cx="452.70" cy="427.50" r="1.9"/><circle cx="461.30" cy="429.80" r="1.9"/><circle cx="444.00" cy="437.10" r="1.9"/><circle cx="452.70" cy="440.00" r="1.9"/><circle cx="444.00" cy="443.70" r="1.9"/><circle cx="461.30" cy="443.70" r="1.9"/><circle cx="452.70" cy="446.20" r="1.9"/><circle cx="444.00" cy="448.70" r="1.9"/><circle cx="461.30" cy="448.70" r="1.9"/><circle cx="448.50" cy="457.10" r="1.9"/><circle cx="457.10" cy="455.80" r="1.9"/></g>
<line x1="432.00" y1="382.10" x2="473.40" y2="382.10" stroke="#000" stroke-width="2.0"/>
<line x1="452.70" y1="376.00" x2="452.70" y2="394.60" stroke="#000" stroke-width="1.4"/>
<line x1="441.70" y1="376.00" x2="463.70" y2="376.00" stroke="#000" stroke-width="1.4"/>
<line x1="441.70" y1="394.60" x2="463.70" y2="394.60" stroke="#000" stroke-width="1.4"/>
<line x1="100.00" y1="559.50" x2="100.00" y2="710.70" stroke="#000" stroke-width="1.55"/>
<line x1="95.50" y1="563.10" x2="100.00" y2="563.10" stroke="#000" stroke-width="1.55"/>
<text x="92.0" y="566.8" font-size="10.4" text-anchor="end">100</text>
<line x1="95.50" y1="599.80" x2="100.00" y2="599.80" stroke="#000" stroke-width="1.55"/>
<text x="92.0" y="603.5" font-size="10.4" text-anchor="end">10</text>
<line x1="95.50" y1="636.50" x2="100.00" y2="636.50" stroke="#000" stroke-width="1.55"/>
<text x="92.0" y="640.2" font-size="10.4" text-anchor="end">1</text>
<line x1="95.50" y1="673.20" x2="100.00" y2="673.20" stroke="#000" stroke-width="1.55"/>
<text x="92.0" y="676.9" font-size="10.4" text-anchor="end">0.1</text>
<line x1="95.50" y1="709.90" x2="100.00" y2="709.90" stroke="#000" stroke-width="1.55"/>
<text x="92.0" y="713.6" font-size="10.4" text-anchor="end">0.01</text>
<line x1="99.20" y1="709.90" x2="255.80" y2="709.90" stroke="#000" stroke-width="1.55"/>
<line x1="141.30" y1="709.90" x2="141.30" y2="714.40" stroke="#000" stroke-width="1.55"/>
<line x1="204.60" y1="709.90" x2="204.60" y2="714.40" stroke="#000" stroke-width="1.55"/>
<text x="141.5" y="728.5" font-size="10.4" text-anchor="middle">no</text>
<text x="205.0" y="728.5" font-size="10.4" text-anchor="middle">yes</text>
<text x="177.5" y="748.8" font-size="13.2" text-anchor="middle" textLength="99.0" lengthAdjust="spacingAndGlyphs">&#945;-tryptase encoding</text>
<text x="177.9" y="764" font-size="13.2" text-anchor="middle" textLength="62.6" lengthAdjust="spacingAndGlyphs"><tspan font-style="italic">TPSAB1</tspan> gain</text>
<text transform="translate(61.2,635.3) rotate(-90)" font-size="13.5" text-anchor="middle" textLength="124.2" lengthAdjust="spacingAndGlyphs"><tspan font-style="italic">KIT</tspan> D816V (% VAF tissue)</text>
<path d="M141.30,562.40V558.10H204.60V562.40" fill="none" stroke="#000" stroke-width="1.15"/>
<text x="172.9" y="558.3" font-size="9.5" text-anchor="middle">***</text>
<g fill="#b3d99a" stroke="#4a5a40" stroke-width="0.7"><circle cx="122.90" cy="576.00" r="1.9"/><circle cx="126.00" cy="580.30" r="1.9"/><circle cx="129.00" cy="578.70" r="1.9"/><circle cx="132.00" cy="578.70" r="1.9"/><circle cx="135.30" cy="580.30" r="1.9"/><circle cx="138.20" cy="577.30" r="1.9"/><circle cx="138.20" cy="582.00" r="1.9"/><circle cx="141.60" cy="578.70" r="1.9"/><circle cx="144.60" cy="578.70" r="1.9"/><circle cx="147.90" cy="579.80" r="1.9"/><circle cx="150.90" cy="577.30" r="1.9"/><circle cx="153.90" cy="580.30" r="1.9"/><circle cx="157.20" cy="578.10" r="1.9"/><circle cx="160.50" cy="575.70" r="1.9"/><circle cx="138.20" cy="586.90" r="1.9"/><circle cx="141.60" cy="586.40" r="1.9"/><circle cx="144.80" cy="585.50" r="1.9"/><circle cx="141.60" cy="594.60" r="1.9"/><circle cx="138.60" cy="597.90" r="1.9"/><circle cx="144.60" cy="596.20" r="1.9"/><circle cx="132.50" cy="600.00" r="1.9"/><circle cx="138.60" cy="600.50" r="1.9"/><circle cx="144.60" cy="600.00" r="1.9"/><circle cx="150.60" cy="600.00" r="1.9"/><circle cx="132.00" cy="607.20" r="1.9"/><circle cx="135.30" cy="606.10" r="1.9"/><circle cx="138.60" cy="605.50" r="1.9"/><circle cx="141.60" cy="604.40" r="1.9"/><circle cx="144.80" cy="603.90" r="1.9"/><circle cx="148.20" cy="605.00" r="1.9"/><circle cx="151.20" cy="606.60" r="1.9"/><circle cx="141.60" cy="609.40" r="1.9"/><circle cx="144.60" cy="609.40" r="1.9"/><circle cx="138.60" cy="612.30" r="1.9"/><circle cx="132.00" cy="617.00" r="1.9"/><circle cx="135.30" cy="617.40" r="1.9"/><circle cx="138.60" cy="617.40" r="1.9"/><circle cx="141.60" cy="617.40" r="1.9"/><circle cx="144.80" cy="615.60" r="1.9"/><circle cx="151.20" cy="614.30" r="1.9"/><circle cx="135.30" cy="621.80" r="1.9"/><circle cx="129.20" cy="624.70" r="1.9"/><circle cx="138.60" cy="625.00" r="1.9"/><circle cx="141.60" cy="626.40" r="1.9"/><circle cx="144.80" cy="623.40" r="1.9"/><circle cx="147.90" cy="621.10" r="1.9"/><circle cx="151.20" cy="624.20" r="1.9"/><circle cx="154.20" cy="621.40" r="1.9"/><circle cx="147.90" cy="625.50" r="1.9"/><circle cx="129.20" cy="629.10" r="1.9"/><circle cx="132.30" cy="629.10" r="1.9"/><circle cx="135.30" cy="627.50" r="1.9"/><circle cx="144.80" cy="628.00" r="1.9"/><circle cx="151.20" cy="628.00" r="1.9"/><circle cx="154.40" cy="627.70" r="1.9"/><circle cx="135.30" cy="633.80" r="1.9"/><circle cx="138.60" cy="636.80" r="1.9"/><circle cx="141.60" cy="637.30" r="1.9"/><circle cx="144.80" cy="635.70" r="1.9"/><circle cx="147.90" cy="632.70" r="1.9"/><circle cx="151.20" cy="633.80" r="1.9"/><circle cx="144.80" cy="643.90" r="1.9"/><circle cx="147.90" cy="645.50" r="1.9"/><circle cx="135.30" cy="646.60" r="1.9"/><circle cx="138.60" cy="649.40" r="1.9"/><circle cx="141.60" cy="648.30" r="1.9"/><circle cx="144.80" cy="649.90" r="1.9"/><circle cx="151.20" cy="649.40" r="1.9"/><circle cx="132.00" cy="651.60" r="1.9"/><circle cx="135.30" cy="651.60" r="1.9"/><circle cx="141.60" cy="652.70" r="1.9"/><circle cx="147.90" cy="653.20" r="1.9"/><circle cx="138.60" cy="655.70" r="1.9"/><circle cx="144.60" cy="655.40" r="1.9"/><circle cx="141.60" cy="658.30" r="1.9"/><circle cx="140.00" cy="669.30" r="1.9"/><circle cx="143.30" cy="668.90" r="1.9"/></g>
<line x1="121.20" y1="599.30" x2="162.00" y2="599.30" stroke="#000" stroke-width="2.0"/>
<line x1="141.60" y1="597.50" x2="141.60" y2="601.50" stroke="#000" stroke-width="1.4"/>
<line x1="131.10" y1="597.50" x2="152.10" y2="597.50" stroke="#000" stroke-width="1.4"/>
<line x1="131.10" y1="601.50" x2="152.10" y2="601.50" stroke="#000" stroke-width="1.4"/>
<g fill="#93a9d2" stroke="#2e3c5e" stroke-width="0.7"><circle cx="204.60" cy="584.50" r="1.9"/><circle cx="195.70" cy="600.10" r="1.9"/><circle cx="204.60" cy="600.10" r="1.9"/><circle cx="213.50" cy="599.10" r="1.9"/><circle cx="204.60" cy="613.50" r="1.9"/><circle cx="204.60" cy="619.40" r="1.9"/><circle cx="200.10" cy="634.20" r="1.9"/><circle cx="209.00" cy="633.60" r="1.9"/><circle cx="204.60" cy="646.70" r="1.9"/><circle cx="204.60" cy="652.40" r="1.9"/><circle cx="204.60" cy="660.00" r="1.9"/><circle cx="195.70" cy="664.90" r="1.9"/><circle cx="213.50" cy="666.80" r="1.9"/><circle cx="204.60" cy="669.10" r="1.9"/><circle cx="204.60" cy="682.20" r="1.9"/><circle cx="213.50" cy="680.70" r="1.9"/><circle cx="204.60" cy="694.50" r="1.9"/></g>
<line x1="184.00" y1="614.50" x2="225.20" y2="614.50" stroke="#000" stroke-width="2.0"/>
<line x1="204.60" y1="608.80" x2="204.60" y2="623.20" stroke="#000" stroke-width="1.4"/>
<line x1="193.60" y1="608.80" x2="215.60" y2="608.80" stroke="#000" stroke-width="1.4"/>
<line x1="193.60" y1="623.20" x2="215.60" y2="623.20" stroke="#000" stroke-width="1.4"/>
<line x1="348.50" y1="559.20" x2="348.50" y2="710.60" stroke="#000" stroke-width="1.55"/>
<line x1="344.00" y1="563.45" x2="348.50" y2="563.45" stroke="#000" stroke-width="1.55"/>
<text x="340.0" y="567.1" font-size="10.4" text-anchor="end">100</text>
<line x1="344.00" y1="592.72" x2="348.50" y2="592.72" stroke="#000" stroke-width="1.55"/>
<text x="340.0" y="596.4" font-size="10.4" text-anchor="end">80</text>
<line x1="344.00" y1="621.99" x2="348.50" y2="621.99" stroke="#000" stroke-width="1.55"/>
<text x="340.0" y="625.7" font-size="10.4" text-anchor="end">60</text>
<line x1="344.00" y1="651.26" x2="348.50" y2="651.26" stroke="#000" stroke-width="1.55"/>
<text x="340.0" y="655.0" font-size="10.4" text-anchor="end">40</text>
<line x1="344.00" y1="680.53" x2="348.50" y2="680.53" stroke="#000" stroke-width="1.55"/>
<text x="340.0" y="684.2" font-size="10.4" text-anchor="end">20</text>
<line x1="344.00" y1="709.80" x2="348.50" y2="709.80" stroke="#000" stroke-width="1.55"/>
<text x="340.0" y="713.5" font-size="10.4" text-anchor="end">0</text>
<line x1="347.70" y1="709.80" x2="504.00" y2="709.80" stroke="#000" stroke-width="1.55"/>
<line x1="390.50" y1="709.80" x2="390.50" y2="714.30" stroke="#000" stroke-width="1.55"/>
<line x1="453.10" y1="709.80" x2="453.10" y2="714.30" stroke="#000" stroke-width="1.55"/>
<text x="390.0" y="727.8" font-size="10.4" text-anchor="middle">no</text>
<text x="453.4" y="727.8" font-size="10.4" text-anchor="middle">yes</text>
<text x="426.3" y="748.4" font-size="13.2" text-anchor="middle" textLength="97.4" lengthAdjust="spacingAndGlyphs">&#945;-tryptase encoding</text>
<text x="426.4" y="763.7" font-size="13.2" text-anchor="middle" textLength="60.5" lengthAdjust="spacingAndGlyphs"><tspan font-style="italic">TPSAB1</tspan> gain</text>
<text transform="translate(312.6,634.1) rotate(-90)" font-size="13.5" text-anchor="middle" textLength="106.2" lengthAdjust="spacingAndGlyphs">BM MC infiltration (%)</text>
<g fill="#6cb040" fill-opacity="0.55" stroke="#12260a" stroke-width="0.7"><circle cx="390.50" cy="592.72" r="2.15"/><circle cx="388.05" cy="607.35" r="2.15"/><circle cx="390.50" cy="607.35" r="2.15"/><circle cx="392.95" cy="607.35" r="2.15"/><circle cx="390.50" cy="614.67" r="2.15"/><circle cx="390.50" cy="621.99" r="2.15"/><circle cx="390.50" cy="624.92" r="2.15"/><circle cx="389.27" cy="636.62" r="2.15"/><circle cx="391.73" cy="636.62" r="2.15"/><circle cx="390.50" cy="651.26" r="2.15"/><circle cx="390.50" cy="658.58" r="2.15"/><circle cx="385.60" cy="665.89" r="2.15"/><circle cx="388.05" cy="665.89" r="2.15"/><circle cx="390.50" cy="665.89" r="2.15"/><circle cx="392.95" cy="665.89" r="2.15"/><circle cx="395.40" cy="665.89" r="2.15"/><circle cx="388.05" cy="673.21" r="2.15"/><circle cx="390.50" cy="673.21" r="2.15"/><circle cx="392.95" cy="673.21" r="2.15"/><circle cx="385.60" cy="680.53" r="2.15"/><circle cx="388.05" cy="680.53" r="2.15"/><circle cx="390.50" cy="680.53" r="2.15"/><circle cx="392.95" cy="680.53" r="2.15"/><circle cx="395.40" cy="680.53" r="2.15"/><circle cx="385.60" cy="687.85" r="2.15"/><circle cx="388.05" cy="687.85" r="2.15"/><circle cx="390.50" cy="687.85" r="2.15"/><circle cx="392.95" cy="687.85" r="2.15"/><circle cx="395.40" cy="687.85" r="2.15"/><circle cx="377.02" cy="695.16" r="2.15"/><circle cx="379.48" cy="695.16" r="2.15"/><circle cx="381.93" cy="695.16" r="2.15"/><circle cx="384.38" cy="695.16" r="2.15"/><circle cx="386.82" cy="695.16" r="2.15"/><circle cx="389.27" cy="695.16" r="2.15"/><circle cx="391.73" cy="695.16" r="2.15"/><circle cx="394.18" cy="695.16" r="2.15"/><circle cx="396.62" cy="695.16" r="2.15"/><circle cx="399.07" cy="695.16" r="2.15"/><circle cx="401.52" cy="695.16" r="2.15"/><circle cx="403.98" cy="695.16" r="2.15"/><circle cx="372.12" cy="702.48" r="2.15"/><circle cx="374.57" cy="702.48" r="2.15"/><circle cx="377.02" cy="702.48" r="2.15"/><circle cx="379.48" cy="702.48" r="2.15"/><circle cx="381.93" cy="702.48" r="2.15"/><circle cx="384.38" cy="702.48" r="2.15"/><circle cx="386.82" cy="702.48" r="2.15"/><circle cx="389.27" cy="702.48" r="2.15"/><circle cx="391.73" cy="702.48" r="2.15"/><circle cx="394.18" cy="702.48" r="2.15"/><circle cx="396.62" cy="702.48" r="2.15"/><circle cx="399.07" cy="702.48" r="2.15"/><circle cx="401.52" cy="702.48" r="2.15"/><circle cx="403.98" cy="702.48" r="2.15"/><circle cx="406.43" cy="702.48" r="2.15"/><circle cx="408.88" cy="702.48" r="2.15"/><circle cx="381.50" cy="705.41" r="2.15"/><circle cx="385.50" cy="706.87" r="2.15"/><circle cx="389.50" cy="708.34" r="2.15"/><circle cx="393.50" cy="706.87" r="2.15"/><circle cx="397.50" cy="705.41" r="2.15"/><circle cx="401.50" cy="706.87" r="2.15"/><circle cx="383.50" cy="709.07" r="2.15"/><circle cx="387.50" cy="709.80" r="2.15"/><circle cx="391.50" cy="709.80" r="2.15"/><circle cx="395.50" cy="709.07" r="2.15"/><circle cx="399.50" cy="708.34" r="2.15"/><circle cx="379.50" cy="708.34" r="2.15"/><circle cx="403.50" cy="703.95" r="2.15"/><circle cx="405.50" cy="705.41" r="2.15"/><circle cx="390.50" cy="704.68" r="2.15"/><circle cx="388.50" cy="706.14" r="2.15"/><circle cx="396.50" cy="707.60" r="2.15"/><circle cx="384.50" cy="708.04" r="2.15"/></g>
<line x1="369.80" y1="684.60" x2="411.20" y2="684.60" stroke="#000" stroke-width="2.0"/>
<line x1="390.50" y1="682.30" x2="390.50" y2="687.00" stroke="#000" stroke-width="1.4"/>
<line x1="381.50" y1="682.30" x2="399.50" y2="682.30" stroke="#000" stroke-width="1.4"/>
<line x1="381.50" y1="687.00" x2="399.50" y2="687.00" stroke="#000" stroke-width="1.4"/>
<g fill="#93a9d2" stroke="#2e3c5e" stroke-width="0.7"><circle cx="453.10" cy="621.70" r="1.9"/><circle cx="447.50" cy="636.30" r="1.9"/><circle cx="453.10" cy="636.30" r="1.9"/><circle cx="458.70" cy="636.30" r="1.9"/><circle cx="453.10" cy="666.00" r="1.9"/><circle cx="453.10" cy="673.10" r="1.9"/><circle cx="453.10" cy="680.40" r="1.9"/><circle cx="453.10" cy="687.90" r="1.9"/><circle cx="447.50" cy="695.20" r="1.9"/><circle cx="453.10" cy="695.20" r="1.9"/><circle cx="458.70" cy="695.20" r="1.9"/><circle cx="434.60" cy="701.90" r="1.9"/><circle cx="440.00" cy="699.40" r="1.9"/><circle cx="450.40" cy="702.30" r="1.9"/><circle cx="455.80" cy="702.30" r="1.9"/><circle cx="461.20" cy="702.30" r="1.9"/><circle cx="466.50" cy="702.30" r="1.9"/><circle cx="434.60" cy="708.00" r="1.9"/><circle cx="440.00" cy="705.40" r="1.9"/><circle cx="445.00" cy="708.00" r="1.9"/><circle cx="450.40" cy="707.00" r="1.9"/><circle cx="455.80" cy="708.00" r="1.9"/><circle cx="461.20" cy="707.00" r="1.9"/><circle cx="466.50" cy="708.00" r="1.9"/><circle cx="471.90" cy="708.00" r="1.9"/></g>
<line x1="432.70" y1="687.90" x2="473.50" y2="687.90" stroke="#000" stroke-width="2.0"/>
<line x1="453.10" y1="682.30" x2="453.10" y2="693.70" stroke="#000" stroke-width="1.4"/>
<line x1="442.30" y1="682.30" x2="463.90" y2="682.30" stroke="#000" stroke-width="1.4"/>
<line x1="442.30" y1="693.70" x2="463.90" y2="693.70" stroke="#000" stroke-width="1.4"/>
<line x1="100.00" y1="800.50" x2="100.00" y2="952.00" stroke="#000" stroke-width="1.55"/>
<line x1="95.50" y1="805.00" x2="100.00" y2="805.00" stroke="#000" stroke-width="1.55"/>
<text x="90.8" y="808.7" font-size="10.4" text-anchor="end">10000</text>
<line x1="95.50" y1="841.55" x2="100.00" y2="841.55" stroke="#000" stroke-width="1.55"/>
<text x="90.8" y="845.3" font-size="10.4" text-anchor="end">1000</text>
<line x1="95.50" y1="878.10" x2="100.00" y2="878.10" stroke="#000" stroke-width="1.55"/>
<text x="90.8" y="881.8" font-size="10.4" text-anchor="end">100</text>
<line x1="95.50" y1="914.65" x2="100.00" y2="914.65" stroke="#000" stroke-width="1.55"/>
<text x="90.8" y="918.4" font-size="10.4" text-anchor="end">10</text>
<line x1="95.50" y1="951.20" x2="100.00" y2="951.20" stroke="#000" stroke-width="1.55"/>
<text x="90.8" y="954.9" font-size="10.4" text-anchor="end">1</text>
<line x1="99.20" y1="951.60" x2="251.30" y2="951.60" stroke="#000" stroke-width="1.55"/>
<line x1="99.70" y1="951.60" x2="99.70" y2="956.10" stroke="#000" stroke-width="1.55"/>
<line x1="135.90" y1="951.60" x2="135.90" y2="956.10" stroke="#000" stroke-width="1.55"/>
<line x1="172.90" y1="951.60" x2="172.90" y2="956.10" stroke="#000" stroke-width="1.55"/>
<line x1="209.80" y1="951.60" x2="209.80" y2="956.10" stroke="#000" stroke-width="1.55"/>
<line x1="246.40" y1="951.60" x2="246.40" y2="956.10" stroke="#000" stroke-width="1.55"/>
<text x="99.7" y="969.8" font-size="10.6" text-anchor="middle">1</text>
<text x="135.9" y="969.8" font-size="10.6" text-anchor="middle">3</text>
<text x="172.9" y="969.8" font-size="10.6" text-anchor="middle">10</text>
<text x="209.8" y="969.8" font-size="10.6" text-anchor="middle">30</text>
<text x="246.4" y="969.8" font-size="10.6" text-anchor="middle">100</text>
<text x="175.8" y="988.5" font-size="13.2" text-anchor="middle" textLength="107.3" lengthAdjust="spacingAndGlyphs">BM MC infiltration (%)</text>
<text transform="translate(52.1,875.9) rotate(-90)" font-size="13.5" text-anchor="middle" textLength="79.7" lengthAdjust="spacingAndGlyphs">Tryptase (ng/mL)</text>
<text x="165.9" y="807.3" font-size="9" textLength="27.5" lengthAdjust="spacingAndGlyphs" fill="#6cab40">&#961;=0.60</text>
<text x="219.8" y="807.3" font-size="9" textLength="26.5" lengthAdjust="spacingAndGlyphs" fill="#45619c">&#961;=0.71</text>
<path d="M99.80,890.05 L103.05,889.14 L106.30,888.21 L109.54,887.28 L112.79,886.34 L116.04,885.40 L119.28,884.45 L122.53,883.50 L125.78,882.53 L129.03,881.56 L132.27,880.58 L135.52,879.60 L138.77,878.60 L142.02,877.60 L145.26,876.58 L148.51,875.56 L151.76,874.53 L155.01,873.49 L158.25,872.44 L161.50,871.38 L164.75,870.31 L168.00,869.21 L171.24,868.10 L174.49,866.97 L177.74,865.82 L180.99,864.65 L184.23,863.47 L187.48,862.28 L190.73,861.07 L193.98,859.85 L197.22,858.61 L200.47,857.36 L203.72,856.10 L206.97,854.84 L210.21,853.56 L213.46,852.27 L216.71,850.98 L219.96,849.67 L223.20,848.37 L226.45,847.05 L229.70,845.73 L229.70,866.18 L226.45,866.97 L223.20,867.77 L219.96,868.58 L216.71,869.40 L213.46,870.22 L210.21,871.05 L206.97,871.89 L203.72,872.74 L200.47,873.60 L197.22,874.47 L193.98,875.35 L190.73,876.24 L187.48,877.15 L184.23,878.07 L180.99,879.01 L177.74,879.96 L174.49,880.93 L171.24,881.92 L168.00,882.92 L164.75,883.95 L161.50,884.99 L158.25,886.05 L155.01,887.11 L151.76,888.19 L148.51,889.28 L145.26,890.37 L142.02,891.48 L138.77,892.59 L135.52,893.71 L132.27,894.84 L129.03,895.98 L125.78,897.13 L122.53,898.28 L119.28,899.44 L116.04,900.61 L112.79,901.79 L109.54,902.97 L106.30,904.15 L103.05,905.35 L99.80,906.55Z" fill="#8ea2c9"/>
<path d="M99.80,907.03 L103.27,906.14 L106.75,905.25 L110.22,904.36 L113.70,903.45 L117.17,902.55 L120.65,901.64 L124.12,900.72 L127.60,899.79 L131.07,898.86 L134.55,897.92 L138.03,896.98 L141.50,896.02 L144.97,895.06 L148.45,894.09 L151.93,893.11 L155.40,892.12 L158.88,891.12 L162.35,890.11 L165.82,889.09 L169.30,888.06 L172.77,887.02 L176.25,885.97 L179.72,884.91 L183.20,883.84 L186.68,882.76 L190.15,881.67 L193.62,880.57 L197.10,879.47 L200.57,878.35 L204.05,877.23 L207.52,876.10 L211.00,874.96 L214.47,873.82 L217.95,872.67 L221.43,871.52 L224.90,870.36 L228.38,869.20 L231.85,868.03 L235.32,866.86 L238.80,865.68 L238.80,878.79 L235.32,879.65 L231.85,880.53 L228.38,881.40 L224.90,882.28 L221.43,883.16 L217.95,884.05 L214.47,884.95 L211.00,885.85 L207.52,886.76 L204.05,887.67 L200.57,888.59 L197.10,889.52 L193.62,890.46 L190.15,891.40 L186.68,892.36 L183.20,893.32 L179.72,894.30 L176.25,895.28 L172.77,896.27 L169.30,897.28 L165.82,898.29 L162.35,899.31 L158.88,900.35 L155.40,901.39 L151.93,902.44 L148.45,903.51 L144.97,904.58 L141.50,905.66 L138.03,906.75 L134.55,907.84 L131.07,908.95 L127.60,910.06 L124.12,911.18 L120.65,912.30 L117.17,913.43 L113.70,914.57 L110.22,915.71 L106.75,916.86 L103.27,918.02 L99.80,919.17Z" fill="#b9dc98"/>
<g fill="#84c060" fill-opacity="0.6" stroke="#3d5a2a" stroke-width="0.7"><circle cx="99.80" cy="886.00" r="2.05"/><circle cx="99.80" cy="894.00" r="2.05"/><circle cx="99.80" cy="900.80" r="2.05"/><circle cx="99.80" cy="906.90" r="2.05"/><circle cx="99.80" cy="910.80" r="2.05"/><circle cx="99.80" cy="919.20" r="2.05"/><circle cx="121.80" cy="893.80" r="2.05"/><circle cx="121.80" cy="915.00" r="2.05"/><circle cx="121.80" cy="925.00" r="2.05"/><circle cx="134.90" cy="881.50" r="2.05"/><circle cx="134.90" cy="903.00" r="2.05"/><circle cx="134.90" cy="906.20" r="2.05"/><circle cx="134.90" cy="932.00" r="2.05"/><circle cx="144.00" cy="894.60" r="2.05"/><circle cx="144.00" cy="912.00" r="2.05"/><circle cx="150.60" cy="869.20" r="2.05"/><circle cx="150.60" cy="888.00" r="2.05"/><circle cx="150.60" cy="891.00" r="2.05"/><circle cx="150.60" cy="894.00" r="2.05"/><circle cx="150.60" cy="897.00" r="2.05"/><circle cx="150.60" cy="900.00" r="2.05"/><circle cx="150.60" cy="903.00" r="2.05"/><circle cx="150.60" cy="906.00" r="2.05"/><circle cx="150.60" cy="909.00" r="2.05"/><circle cx="150.60" cy="912.00" r="2.05"/><circle cx="150.60" cy="915.00" r="2.05"/><circle cx="150.60" cy="918.00" r="2.05"/><circle cx="150.60" cy="923.80" r="2.05"/><circle cx="172.90" cy="845.60" r="2.05"/><circle cx="172.90" cy="860.20" r="2.05"/><circle cx="172.90" cy="867.60" r="2.05"/><circle cx="172.90" cy="871.00" r="2.05"/><circle cx="172.90" cy="883.00" r="2.05"/><circle cx="172.90" cy="886.00" r="2.05"/><circle cx="172.90" cy="889.00" r="2.05"/><circle cx="172.90" cy="892.00" r="2.05"/><circle cx="172.90" cy="895.00" r="2.05"/><circle cx="172.90" cy="898.00" r="2.05"/><circle cx="172.90" cy="901.00" r="2.05"/><circle cx="172.90" cy="904.00" r="2.05"/><circle cx="172.90" cy="916.00" r="2.05"/><circle cx="172.90" cy="922.10" r="2.05"/><circle cx="185.80" cy="870.20" r="2.05"/><circle cx="185.80" cy="879.70" r="2.05"/><circle cx="185.80" cy="884.00" r="2.05"/><circle cx="185.80" cy="889.00" r="2.05"/><circle cx="185.80" cy="892.00" r="2.05"/><circle cx="185.80" cy="895.30" r="2.05"/><circle cx="185.80" cy="906.50" r="2.05"/><circle cx="191.80" cy="891.00" r="2.05"/><circle cx="194.80" cy="870.00" r="2.05"/><circle cx="194.80" cy="873.00" r="2.05"/><circle cx="194.80" cy="876.00" r="2.05"/><circle cx="194.80" cy="879.00" r="2.05"/><circle cx="194.80" cy="882.00" r="2.05"/><circle cx="194.80" cy="885.00" r="2.05"/><circle cx="194.80" cy="888.00" r="2.05"/><circle cx="194.80" cy="891.00" r="2.05"/><circle cx="194.80" cy="924.70" r="2.05"/><circle cx="201.70" cy="850.30" r="2.05"/><circle cx="201.70" cy="871.00" r="2.05"/><circle cx="201.70" cy="874.00" r="2.05"/><circle cx="201.70" cy="877.00" r="2.05"/><circle cx="201.70" cy="880.60" r="2.05"/><circle cx="201.70" cy="906.20" r="2.05"/><circle cx="207.70" cy="861.50" r="2.05"/><circle cx="207.70" cy="869.30" r="2.05"/><circle cx="207.70" cy="873.00" r="2.05"/><circle cx="207.70" cy="877.00" r="2.05"/><circle cx="207.70" cy="885.80" r="2.05"/><circle cx="207.70" cy="897.00" r="2.05"/><circle cx="207.70" cy="911.20" r="2.05"/><circle cx="212.60" cy="856.70" r="2.05"/><circle cx="212.60" cy="872.80" r="2.05"/><circle cx="216.90" cy="887.50" r="2.05"/><circle cx="216.90" cy="892.70" r="2.05"/><circle cx="224.20" cy="879.70" r="2.05"/><circle cx="224.20" cy="883.70" r="2.05"/><circle cx="224.20" cy="894.80" r="2.05"/><circle cx="229.40" cy="910.00" r="2.05"/><circle cx="229.40" cy="942.00" r="2.05"/><circle cx="234.60" cy="848.60" r="2.05"/><circle cx="234.60" cy="851.20" r="2.05"/><circle cx="234.60" cy="855.50" r="2.05"/><circle cx="234.60" cy="861.50" r="2.05"/><circle cx="234.60" cy="866.70" r="2.05"/><circle cx="234.60" cy="877.10" r="2.05"/><circle cx="238.90" cy="840.40" r="2.05"/></g>
<g fill="#4d70b0" fill-opacity="0.6" stroke="#2e3c5e" stroke-width="0.7"><circle cx="99.80" cy="887.70" r="2.05"/><circle cx="99.80" cy="890.00" r="2.05"/><circle cx="99.80" cy="896.20" r="2.05"/><circle cx="99.80" cy="898.00" r="2.05"/><circle cx="121.80" cy="883.00" r="2.05"/><circle cx="121.80" cy="897.20" r="2.05"/><circle cx="134.90" cy="897.70" r="2.05"/><circle cx="150.60" cy="880.30" r="2.05"/><circle cx="150.60" cy="890.80" r="2.05"/><circle cx="150.60" cy="896.20" r="2.05"/><circle cx="161.40" cy="887.00" r="2.05"/><circle cx="172.90" cy="893.00" r="2.05"/><circle cx="185.80" cy="842.50" r="2.05"/><circle cx="194.80" cy="888.40" r="2.05"/><circle cx="201.70" cy="863.00" r="2.05"/><circle cx="207.70" cy="877.00" r="2.05"/><circle cx="224.20" cy="833.50" r="2.05"/><circle cx="224.20" cy="842.50" r="2.05"/><circle cx="224.20" cy="857.20" r="2.05"/><circle cx="229.40" cy="848.00" r="2.05"/></g>
<path d="M99.80,890.05 L103.05,889.14 L106.30,888.21 L109.54,887.28 L112.79,886.34 L116.04,885.40 L119.28,884.45 L122.53,883.50 L125.78,882.53 L129.03,881.56 L132.27,880.58 L135.52,879.60 L138.77,878.60 L142.02,877.60 L145.26,876.58 L148.51,875.56 L151.76,874.53 L155.01,873.49 L158.25,872.44 L161.50,871.38 L164.75,870.31 L168.00,869.21 L171.24,868.10 L174.49,866.97 L177.74,865.82 L180.99,864.65 L184.23,863.47 L187.48,862.28 L190.73,861.07 L193.98,859.85 L197.22,858.61 L200.47,857.36 L203.72,856.10 L206.97,854.84 L210.21,853.56 L213.46,852.27 L216.71,850.98 L219.96,849.67 L223.20,848.37 L226.45,847.05 L229.70,845.73" fill="none" stroke="#000" stroke-width="1.3" stroke-dasharray="4,2.4"/>
<path d="M99.80,906.55 L103.05,905.35 L106.30,904.15 L109.54,902.97 L112.79,901.79 L116.04,900.61 L119.28,899.44 L122.53,898.28 L125.78,897.13 L129.03,895.98 L132.27,894.84 L135.52,893.71 L138.77,892.59 L142.02,891.48 L145.26,890.37 L148.51,889.28 L151.76,888.19 L155.01,887.11 L158.25,886.05 L161.50,884.99 L164.75,883.95 L168.00,882.92 L171.24,881.92 L174.49,880.93 L177.74,879.96 L180.99,879.01 L184.23,878.07 L187.48,877.15 L190.73,876.24 L193.98,875.35 L197.22,874.47 L200.47,873.60 L203.72,872.74 L206.97,871.89 L210.21,871.05 L213.46,870.22 L216.71,869.40 L219.96,868.58 L223.20,867.77 L226.45,866.97 L229.70,866.18" fill="none" stroke="#000" stroke-width="1.3" stroke-dasharray="4,2.4"/>
<line x1="99.80" y1="898.30" x2="229.70" y2="855.95" stroke="#000" stroke-width="1.8"/>
<path d="M99.80,907.03 L103.27,906.14 L106.75,905.25 L110.22,904.36 L113.70,903.45 L117.17,902.55 L120.65,901.64 L124.12,900.72 L127.60,899.79 L131.07,898.86 L134.55,897.92 L138.03,896.98 L141.50,896.02 L144.97,895.06 L148.45,894.09 L151.93,893.11 L155.40,892.12 L158.88,891.12 L162.35,890.11 L165.82,889.09 L169.30,888.06 L172.77,887.02 L176.25,885.97 L179.72,884.91 L183.20,883.84 L186.68,882.76 L190.15,881.67 L193.62,880.57 L197.10,879.47 L200.57,878.35 L204.05,877.23 L207.52,876.10 L211.00,874.96 L214.47,873.82 L217.95,872.67 L221.43,871.52 L224.90,870.36 L228.38,869.20 L231.85,868.03 L235.32,866.86 L238.80,865.68" fill="none" stroke="#000" stroke-width="1.3" stroke-dasharray="4,2.4"/>
<path d="M99.80,919.17 L103.27,918.02 L106.75,916.86 L110.22,915.71 L113.70,914.57 L117.17,913.43 L120.65,912.30 L124.12,911.18 L127.60,910.06 L131.07,908.95 L134.55,907.84 L138.03,906.75 L141.50,905.66 L144.97,904.58 L148.45,903.51 L151.93,902.44 L155.40,901.39 L158.88,900.35 L162.35,899.31 L165.82,898.29 L169.30,897.28 L172.77,896.27 L176.25,895.28 L179.72,894.30 L183.20,893.32 L186.68,892.36 L190.15,891.40 L193.62,890.46 L197.10,889.52 L200.57,888.59 L204.05,887.67 L207.52,886.76 L211.00,885.85 L214.47,884.95 L217.95,884.05 L221.43,883.16 L224.90,882.28 L228.38,881.40 L231.85,880.53 L235.32,879.65 L238.80,878.79" fill="none" stroke="#000" stroke-width="1.3" stroke-dasharray="4,2.4"/>
<line x1="99.80" y1="913.10" x2="238.80" y2="872.23" stroke="#000" stroke-width="1.8"/>
<line x1="348.90" y1="800.20" x2="348.90" y2="951.60" stroke="#000" stroke-width="1.55"/>
<line x1="344.40" y1="805.00" x2="348.90" y2="805.00" stroke="#000" stroke-width="1.55"/>
<text x="339.5" y="808.7" font-size="10.4" text-anchor="end">10000</text>
<line x1="344.40" y1="841.45" x2="348.90" y2="841.45" stroke="#000" stroke-width="1.55"/>
<text x="339.5" y="845.1" font-size="10.4" text-anchor="end">1000</text>
<line x1="344.40" y1="877.90" x2="348.90" y2="877.90" stroke="#000" stroke-width="1.55"/>
<text x="339.5" y="881.6" font-size="10.4" text-anchor="end">100</text>
<line x1="344.40" y1="914.35" x2="348.90" y2="914.35" stroke="#000" stroke-width="1.55"/>
<text x="339.5" y="918.0" font-size="10.4" text-anchor="end">10</text>
<line x1="344.40" y1="950.80" x2="348.90" y2="950.80" stroke="#000" stroke-width="1.55"/>
<text x="339.5" y="954.5" font-size="10.4" text-anchor="end">1</text>
<line x1="348.10" y1="951.00" x2="499.20" y2="951.00" stroke="#000" stroke-width="1.55"/>
<line x1="348.90" y1="951.00" x2="348.90" y2="955.50" stroke="#000" stroke-width="1.55"/>
<line x1="385.20" y1="951.00" x2="385.20" y2="955.50" stroke="#000" stroke-width="1.55"/>
<line x1="421.50" y1="951.00" x2="421.50" y2="955.50" stroke="#000" stroke-width="1.55"/>
<line x1="457.80" y1="951.00" x2="457.80" y2="955.50" stroke="#000" stroke-width="1.55"/>
<line x1="494.10" y1="951.00" x2="494.10" y2="955.50" stroke="#000" stroke-width="1.55"/>
<text x="348.9" y="969.8" font-size="10.6" text-anchor="middle">0.01</text>
<text x="385.2" y="969.8" font-size="10.6" text-anchor="middle">0.1</text>
<text x="421.5" y="969.8" font-size="10.6" text-anchor="middle">1</text>
<text x="457.8" y="969.8" font-size="10.6" text-anchor="middle">10</text>
<text x="494.1" y="969.8" font-size="10.6" text-anchor="middle">100</text>
<text x="423.8" y="987.7" font-size="13.2" text-anchor="middle" textLength="120.0" lengthAdjust="spacingAndGlyphs"><tspan font-style="italic">KIT</tspan> D816V (% VAF tissue)</text>
<text transform="translate(301,875.7) rotate(-90)" font-size="13.5" text-anchor="middle" textLength="79.8" lengthAdjust="spacingAndGlyphs">Tryptase (ng/mL)</text>
<text x="410.6" y="807.2" font-size="9" textLength="27.5" lengthAdjust="spacingAndGlyphs" fill="#6cab40">&#961;=0.66</text>
<text x="464.5" y="807.2" font-size="9" textLength="27.5" lengthAdjust="spacingAndGlyphs" fill="#45619c">&#961;=0.80</text>
<path d="M363.90,890.37 L366.62,889.43 L369.35,888.48 L372.07,887.53 L374.80,886.56 L377.52,885.59 L380.25,884.61 L382.97,883.62 L385.70,882.62 L388.42,881.61 L391.15,880.59 L393.88,879.55 L396.60,878.49 L399.32,877.42 L402.05,876.33 L404.77,875.21 L407.50,874.07 L410.22,872.91 L412.95,871.71 L415.67,870.49 L418.40,869.24 L421.12,867.95 L423.85,866.62 L426.57,865.26 L429.30,863.86 L432.02,862.42 L434.75,860.94 L437.47,859.41 L440.20,857.85 L442.92,856.25 L445.65,854.62 L448.38,852.96 L451.10,851.28 L453.82,849.57 L456.55,847.83 L459.27,846.08 L462.00,844.31 L464.72,842.52 L467.45,840.72 L470.17,838.90 L472.90,837.08 L472.90,861.38 L470.17,862.32 L467.45,863.28 L464.72,864.24 L462.00,865.23 L459.27,866.22 L456.55,867.24 L453.82,868.27 L451.10,869.33 L448.38,870.41 L445.65,871.52 L442.92,872.66 L440.20,873.83 L437.47,875.03 L434.75,876.28 L432.02,877.57 L429.30,878.89 L426.57,880.26 L423.85,881.67 L421.12,883.11 L418.40,884.59 L415.67,886.11 L412.95,887.65 L410.22,889.23 L407.50,890.83 L404.77,892.46 L402.05,894.11 L399.32,895.79 L396.60,897.48 L393.88,899.20 L391.15,900.93 L388.42,902.67 L385.70,904.43 L382.97,906.20 L380.25,907.98 L377.52,909.76 L374.80,911.56 L372.07,913.37 L369.35,915.18 L366.62,917.00 L363.90,918.83Z" fill="#8ea2c9"/>
<path d="M388.50,903.60 L390.82,902.73 L393.15,901.87 L395.48,901.00 L397.80,900.12 L400.12,899.24 L402.45,898.36 L404.77,897.47 L407.10,896.57 L409.43,895.67 L411.75,894.76 L414.07,893.85 L416.40,892.93 L418.73,892.00 L421.05,891.07 L423.38,890.12 L425.70,889.17 L428.02,888.21 L430.35,887.25 L432.68,886.27 L435.00,885.29 L437.32,884.30 L439.65,883.30 L441.98,882.30 L444.30,881.29 L446.62,880.29 L448.95,879.28 L451.27,878.27 L453.60,877.26 L455.93,876.25 L458.25,875.24 L460.57,874.22 L462.90,873.21 L465.23,872.19 L467.55,871.18 L469.88,870.16 L472.20,869.14 L474.52,868.12 L476.85,867.10 L479.18,866.08 L481.50,865.06 L481.50,877.99 L479.18,878.97 L476.85,879.96 L474.52,880.95 L472.20,881.94 L469.88,882.93 L467.55,883.92 L465.23,884.92 L462.90,885.91 L460.57,886.90 L458.25,887.90 L455.93,888.90 L453.60,889.89 L451.27,890.89 L448.95,891.89 L446.62,892.89 L444.30,893.90 L441.98,894.90 L439.65,895.90 L437.32,896.91 L435.00,897.93 L432.68,898.96 L430.35,899.99 L428.02,901.04 L425.70,902.09 L423.38,903.15 L421.05,904.21 L418.73,905.29 L416.40,906.37 L414.07,907.45 L411.75,908.55 L409.43,909.65 L407.10,910.76 L404.77,911.87 L402.45,912.99 L400.12,914.11 L397.80,915.24 L395.48,916.38 L393.15,917.51 L390.82,918.66 L388.50,919.80Z" fill="#b9dc98"/>
<g fill="#84c060" fill-opacity="0.6" stroke="#3d5a2a" stroke-width="0.7"><circle cx="388.50" cy="924.90" r="2.05"/><circle cx="388.50" cy="922.50" r="2.05"/><circle cx="402.70" cy="922.00" r="2.05"/><circle cx="404.20" cy="916.20" r="2.05"/><circle cx="411.20" cy="914.30" r="2.05"/><circle cx="399.60" cy="905.40" r="2.05"/><circle cx="401.90" cy="886.90" r="2.05"/><circle cx="405.80" cy="896.50" r="2.05"/><circle cx="408.10" cy="898.50" r="2.05"/><circle cx="405.00" cy="901.50" r="2.05"/><circle cx="406.50" cy="908.50" r="2.05"/><circle cx="409.60" cy="906.20" r="2.05"/><circle cx="412.70" cy="892.60" r="2.05"/><circle cx="421.20" cy="906.20" r="2.05"/><circle cx="424.20" cy="909.70" r="2.05"/><circle cx="421.20" cy="912.80" r="2.05"/><circle cx="429.20" cy="908.20" r="2.05"/><circle cx="423.50" cy="881.20" r="2.05"/><circle cx="429.60" cy="882.30" r="2.05"/><circle cx="433.50" cy="878.20" r="2.05"/><circle cx="422.70" cy="895.40" r="2.05"/><circle cx="426.50" cy="892.30" r="2.05"/><circle cx="430.40" cy="888.50" r="2.05"/><circle cx="431.90" cy="893.80" r="2.05"/><circle cx="470.40" cy="840.00" r="2.05"/><circle cx="477.30" cy="849.70" r="2.05"/><circle cx="479.60" cy="849.20" r="2.05"/><circle cx="479.30" cy="856.90" r="2.05"/><circle cx="478.10" cy="861.20" r="2.05"/><circle cx="458.50" cy="860.30" r="2.05"/><circle cx="450.40" cy="866.50" r="2.05"/><circle cx="451.60" cy="869.50" r="2.05"/><circle cx="437.30" cy="870.50" r="2.05"/><circle cx="443.50" cy="872.00" r="2.05"/><circle cx="452.20" cy="874.20" r="2.05"/><circle cx="460.40" cy="872.60" r="2.05"/><circle cx="471.20" cy="873.10" r="2.05"/><circle cx="478.10" cy="870.80" r="2.05"/><circle cx="481.50" cy="869.20" r="2.05"/><circle cx="433.20" cy="878.20" r="2.05"/><circle cx="440.40" cy="879.20" r="2.05"/><circle cx="441.20" cy="881.80" r="2.05"/><circle cx="449.60" cy="878.90" r="2.05"/><circle cx="445.00" cy="883.80" r="2.05"/><circle cx="448.80" cy="883.40" r="2.05"/><circle cx="453.80" cy="881.50" r="2.05"/><circle cx="455.80" cy="889.50" r="2.05"/><circle cx="451.90" cy="887.70" r="2.05"/><circle cx="472.70" cy="883.80" r="2.05"/><circle cx="475.80" cy="882.30" r="2.05"/><circle cx="479.60" cy="879.70" r="2.05"/><circle cx="431.90" cy="887.70" r="2.05"/><circle cx="439.60" cy="887.70" r="2.05"/><circle cx="435.00" cy="890.80" r="2.05"/><circle cx="425.80" cy="892.00" r="2.05"/><circle cx="421.90" cy="895.40" r="2.05"/><circle cx="429.60" cy="893.80" r="2.05"/><circle cx="436.50" cy="895.40" r="2.05"/><circle cx="428.10" cy="897.70" r="2.05"/><circle cx="435.00" cy="897.70" r="2.05"/><circle cx="462.70" cy="896.90" r="2.05"/><circle cx="479.60" cy="895.40" r="2.05"/><circle cx="478.10" cy="897.70" r="2.05"/><circle cx="476.50" cy="900.80" r="2.05"/><circle cx="478.10" cy="903.80" r="2.05"/><circle cx="421.20" cy="906.20" r="2.05"/><circle cx="424.20" cy="910.00" r="2.05"/><circle cx="428.80" cy="908.50" r="2.05"/><circle cx="421.20" cy="913.10" r="2.05"/><circle cx="477.30" cy="941.50" r="2.05"/><circle cx="396.00" cy="903.00" r="2.05"/><circle cx="398.00" cy="909.00" r="2.05"/><circle cx="410.00" cy="902.00" r="2.05"/><circle cx="414.00" cy="899.00" r="2.05"/><circle cx="416.00" cy="904.00" r="2.05"/><circle cx="418.00" cy="895.00" r="2.05"/><circle cx="413.00" cy="908.00" r="2.05"/><circle cx="417.00" cy="911.00" r="2.05"/><circle cx="400.00" cy="913.00" r="2.05"/><circle cx="395.00" cy="899.00" r="2.05"/></g>
<g fill="#4d70b0" fill-opacity="0.6" stroke="#2e3c5e" stroke-width="0.7"><circle cx="364.20" cy="897.70" r="2.05"/><circle cx="376.50" cy="891.50" r="2.05"/><circle cx="377.80" cy="896.50" r="2.05"/><circle cx="389.20" cy="891.10" r="2.05"/><circle cx="391.20" cy="894.60" r="2.05"/><circle cx="393.20" cy="896.90" r="2.05"/><circle cx="398.10" cy="880.50" r="2.05"/><circle cx="405.80" cy="887.20" r="2.05"/><circle cx="411.90" cy="896.90" r="2.05"/><circle cx="424.50" cy="842.60" r="2.05"/><circle cx="457.80" cy="842.80" r="2.05"/><circle cx="472.20" cy="834.20" r="2.05"/><circle cx="458.10" cy="856.90" r="2.05"/><circle cx="458.80" cy="863.40" r="2.05"/><circle cx="438.10" cy="876.90" r="2.05"/></g>
<path d="M363.90,890.37 L366.62,889.43 L369.35,888.48 L372.07,887.53 L374.80,886.56 L377.52,885.59 L380.25,884.61 L382.97,883.62 L385.70,882.62 L388.42,881.61 L391.15,880.59 L393.88,879.55 L396.60,878.49 L399.32,877.42 L402.05,876.33 L404.77,875.21 L407.50,874.07 L410.22,872.91 L412.95,871.71 L415.67,870.49 L418.40,869.24 L421.12,867.95 L423.85,866.62 L426.57,865.26 L429.30,863.86 L432.02,862.42 L434.75,860.94 L437.47,859.41 L440.20,857.85 L442.92,856.25 L445.65,854.62 L448.38,852.96 L451.10,851.28 L453.82,849.57 L456.55,847.83 L459.27,846.08 L462.00,844.31 L464.72,842.52 L467.45,840.72 L470.17,838.90 L472.90,837.08" fill="none" stroke="#000" stroke-width="1.3" stroke-dasharray="4,2.4"/>
<path d="M363.90,918.83 L366.62,917.00 L369.35,915.18 L372.07,913.37 L374.80,911.56 L377.52,909.76 L380.25,907.98 L382.97,906.20 L385.70,904.43 L388.42,902.67 L391.15,900.93 L393.88,899.20 L396.60,897.48 L399.32,895.79 L402.05,894.11 L404.77,892.46 L407.50,890.83 L410.22,889.23 L412.95,887.65 L415.67,886.11 L418.40,884.59 L421.12,883.11 L423.85,881.67 L426.57,880.26 L429.30,878.89 L432.02,877.57 L434.75,876.28 L437.47,875.03 L440.20,873.83 L442.92,872.66 L445.65,871.52 L448.38,870.41 L451.10,869.33 L453.82,868.27 L456.55,867.24 L459.27,866.22 L462.00,865.23 L464.72,864.24 L467.45,863.28 L470.17,862.32 L472.90,861.38" fill="none" stroke="#000" stroke-width="1.3" stroke-dasharray="4,2.4"/>
<line x1="363.90" y1="904.60" x2="472.90" y2="849.23" stroke="#000" stroke-width="1.8"/>
<path d="M388.50,903.60 L390.82,902.73 L393.15,901.87 L395.48,901.00 L397.80,900.12 L400.12,899.24 L402.45,898.36 L404.77,897.47 L407.10,896.57 L409.43,895.67 L411.75,894.76 L414.07,893.85 L416.40,892.93 L418.73,892.00 L421.05,891.07 L423.38,890.12 L425.70,889.17 L428.02,888.21 L430.35,887.25 L432.68,886.27 L435.00,885.29 L437.32,884.30 L439.65,883.30 L441.98,882.30 L444.30,881.29 L446.62,880.29 L448.95,879.28 L451.27,878.27 L453.60,877.26 L455.93,876.25 L458.25,875.24 L460.57,874.22 L462.90,873.21 L465.23,872.19 L467.55,871.18 L469.88,870.16 L472.20,869.14 L474.52,868.12 L476.85,867.10 L479.18,866.08 L481.50,865.06" fill="none" stroke="#000" stroke-width="1.3" stroke-dasharray="4,2.4"/>
<path d="M388.50,919.80 L390.82,918.66 L393.15,917.51 L395.48,916.38 L397.80,915.24 L400.12,914.11 L402.45,912.99 L404.77,911.87 L407.10,910.76 L409.43,909.65 L411.75,908.55 L414.07,907.45 L416.40,906.37 L418.73,905.29 L421.05,904.21 L423.38,903.15 L425.70,902.09 L428.02,901.04 L430.35,899.99 L432.68,898.96 L435.00,897.93 L437.32,896.91 L439.65,895.90 L441.98,894.90 L444.30,893.90 L446.62,892.89 L448.95,891.89 L451.27,890.89 L453.60,889.89 L455.93,888.90 L458.25,887.90 L460.57,886.90 L462.90,885.91 L465.23,884.92 L467.55,883.92 L469.88,882.93 L472.20,881.94 L474.52,880.95 L476.85,879.96 L479.18,878.97 L481.50,877.99" fill="none" stroke="#000" stroke-width="1.3" stroke-dasharray="4,2.4"/>
<line x1="388.50" y1="911.70" x2="481.50" y2="871.52" stroke="#000" stroke-width="1.8"/>
<rect x="0.9" y="0.9" width="518.2" height="1002.2" fill="none" stroke="#000" stroke-width="1.8"/>
</svg>
</body></html>
